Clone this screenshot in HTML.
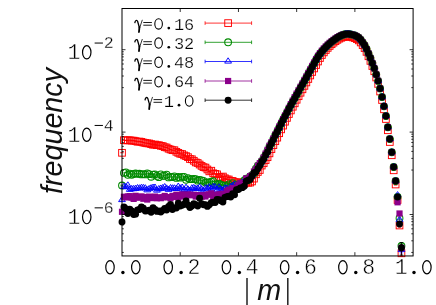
<!DOCTYPE html>
<html><head><meta charset="utf-8"><title>plot</title>
<style>
html,body{margin:0;padding:0;background:#fff;}
svg{display:block}
.tk{font-family:"Liberation Mono",monospace;font-size:21.5px;fill:#000;stroke:#fff;stroke-width:0.45px}
.sp{font-family:"Liberation Mono",monospace;font-size:16.6px;fill:#000;stroke:#fff;stroke-width:0.3px}
.lg{font-family:"Liberation Mono",monospace;font-size:17px;fill:#000;stroke:#fff;stroke-width:0.25px}
.z{fill:none;stroke:#000}
.gm{font-family:"Liberation Serif",serif;font-size:19px;fill:#111}
.ax{font-family:"Liberation Sans",sans-serif;font-style:italic;font-size:28.7px;fill:#111}
</style></head><body>
<svg width="436" height="305" viewBox="0 0 436 305">
<rect width="436" height="305" fill="#fff"/>
<g><g><path d="M120.3 152.8h3.4M122.24 140.2h3.4M124.18 140.35h3.4M126.12 140.32h3.4M128.06 140.31h3.4M130 140.6h3.4M131.94 140.66h3.4M133.88 141.15h3.4M135.83 141.72h3.4M137.77 141.53h3.4M139.71 141.85h3.4M141.65 142.55h3.4M143.59 142.95h3.4M145.53 143.32h3.4M147.47 143.46h3.4M149.41 144.12h3.4M151.35 144.73h3.4M153.29 144.53h3.4M155.23 145.19h3.4M157.17 145.18h3.4M159.11 145.82h3.4M161.05 146.14h3.4M162.99 147.2h3.4M164.94 147.51h3.4M166.88 148.73h3.4M168.82 149.48h3.4M170.76 150.2h3.4M172.7 150.24h3.4M174.64 151.79h3.4M176.58 152.83h3.4M178.52 153.77h3.4M180.46 154.04h3.4M182.4 155.37h3.4M184.34 156.13h3.4M186.28 157.18h3.4M188.22 159h3.4M190.16 159.26h3.4M192.1 160.76h3.4M194.05 162.42h3.4M195.99 163h3.4M197.93 164.52h3.4M199.87 165.91h3.4M201.81 167.13h3.4M203.75 167.58h3.4M205.69 169.45h3.4M207.63 171.36h3.4M209.57 170.71h3.4M211.51 173.3h3.4M213.45 173.87h3.4M215.39 174.35h3.4M217.33 177.09h3.4M219.27 177.12h3.4M221.21 176.54h3.4M223.16 178.24h3.4M225.1 179.37h3.4M227.04 179.49h3.4M228.98 180.86h3.4M230.92 180.94h3.4M234.56 181.71V182.63M232.86 181.71h3.4M232.86 182.63h3.4M236.5 182.9V183.85M234.8 182.9h3.4M234.8 183.85h3.4M238.44 181.6V182.52M236.74 181.6h3.4M236.74 182.52h3.4M240.38 182.72V183.67M238.68 182.72h3.4M238.68 183.67h3.4M242.32 182.51V183.45M240.62 182.51h3.4M240.62 183.45h3.4M244.26 183.21V184.17M242.56 183.21h3.4M242.56 184.17h3.4M246.2 182.06V182.99M244.5 182.06h3.4M244.5 182.99h3.4M248.14 182.3V183.24M246.44 182.3h3.4M246.44 183.24h3.4M250.08 182.14V183.07M248.38 182.14h3.4M248.38 183.07h3.4M252.02 181V181.91M250.32 181h3.4M250.32 181.91h3.4M252.27 178.62h3.4M254.21 174.29h3.4M256.15 172h3.4M258.09 170h3.4M260.03 165.55h3.4M261.97 163.23h3.4M263.91 160.1h3.4M265.85 157.21h3.4M267.79 153.37h3.4M269.73 149.16h3.4M271.67 145.15h3.4M273.61 141.2h3.4M275.55 137.65h3.4M277.49 133.23h3.4M279.43 129.36h3.4M281.38 125.6h3.4M283.32 121.69h3.4M285.26 117.89h3.4M287.2 114.02h3.4M289.14 110.44h3.4M291.08 106.74h3.4M293.02 103.31h3.4M294.96 99.74h3.4M296.9 96.21h3.4M298.84 92.74h3.4M300.78 89.3h3.4M302.72 85.88h3.4M304.66 82.45h3.4M306.6 78.98h3.4M308.54 75.46h3.4M310.49 71.93h3.4M312.43 68.44h3.4M314.37 65h3.4M316.31 61.5h3.4M318.25 58.01h3.4M320.19 55.01h3.4M322.13 52.38h3.4M324.07 50.02h3.4M326.01 47.89h3.4M327.95 45.97h3.4M329.89 44.23h3.4M331.83 42.65h3.4M333.77 41.21h3.4M335.71 39.85h3.4M337.65 38.67h3.4M339.6 37.76h3.4M341.54 37.05h3.4M343.48 36.6h3.4M345.42 36.4h3.4M347.36 36.59h3.4M349.3 36.97h3.4M351.24 37.46h3.4M353.18 38.17h3.4M355.12 39.1h3.4M357.06 40.4h3.4M359 42.47h3.4M360.94 45.11h3.4M362.88 48.08h3.4M364.82 51.88h3.4M366.76 56.26h3.4M368.71 60.89h3.4M370.65 66.02h3.4M372.59 71.25h3.4M374.53 77.49h3.4M376.47 83.9h3.4M378.41 91.5h3.4M380.35 100h3.4M382.29 109.3h3.4M384.23 119h3.4M386.17 130.25h3.4M388.11 142h3.4M390.05 155.25h3.4M391.99 170.3h3.4M395.63 184.01V184.99M393.93 184.01h3.4M393.93 184.99h3.4M397.57 199.24V200.76M395.87 199.24h3.4M395.87 200.76h3.4M399.52 223.96V227.04M397.82 223.96h3.4M397.82 227.04h3.4M401.46 250.3V256.3M399.76 250.3h3.4M399.76 256.3h3.4" stroke="#ff0000" stroke-width="1.1" fill="none"/><rect x="118.65" y="149.45" width="6.7" height="6.7" fill="none" stroke="#ff0000" stroke-width="0.95"/><rect x="120.59" y="136.85" width="6.7" height="6.7" fill="none" stroke="#ff0000" stroke-width="0.95"/><rect x="122.53" y="137" width="6.7" height="6.7" fill="none" stroke="#ff0000" stroke-width="0.95"/><rect x="124.47" y="136.97" width="6.7" height="6.7" fill="none" stroke="#ff0000" stroke-width="0.95"/><rect x="126.41" y="136.96" width="6.7" height="6.7" fill="none" stroke="#ff0000" stroke-width="0.95"/><rect x="128.35" y="137.25" width="6.7" height="6.7" fill="none" stroke="#ff0000" stroke-width="0.95"/><rect x="130.29" y="137.31" width="6.7" height="6.7" fill="none" stroke="#ff0000" stroke-width="0.95"/><rect x="132.23" y="137.8" width="6.7" height="6.7" fill="none" stroke="#ff0000" stroke-width="0.95"/><rect x="134.18" y="138.37" width="6.7" height="6.7" fill="none" stroke="#ff0000" stroke-width="0.95"/><rect x="136.12" y="138.18" width="6.7" height="6.7" fill="none" stroke="#ff0000" stroke-width="0.95"/><rect x="138.06" y="138.5" width="6.7" height="6.7" fill="none" stroke="#ff0000" stroke-width="0.95"/><rect x="140" y="139.2" width="6.7" height="6.7" fill="none" stroke="#ff0000" stroke-width="0.95"/><rect x="141.94" y="139.6" width="6.7" height="6.7" fill="none" stroke="#ff0000" stroke-width="0.95"/><rect x="143.88" y="139.97" width="6.7" height="6.7" fill="none" stroke="#ff0000" stroke-width="0.95"/><rect x="145.82" y="140.11" width="6.7" height="6.7" fill="none" stroke="#ff0000" stroke-width="0.95"/><rect x="147.76" y="140.77" width="6.7" height="6.7" fill="none" stroke="#ff0000" stroke-width="0.95"/><rect x="149.7" y="141.38" width="6.7" height="6.7" fill="none" stroke="#ff0000" stroke-width="0.95"/><rect x="151.64" y="141.18" width="6.7" height="6.7" fill="none" stroke="#ff0000" stroke-width="0.95"/><rect x="153.58" y="141.84" width="6.7" height="6.7" fill="none" stroke="#ff0000" stroke-width="0.95"/><rect x="155.52" y="141.83" width="6.7" height="6.7" fill="none" stroke="#ff0000" stroke-width="0.95"/><rect x="157.46" y="142.47" width="6.7" height="6.7" fill="none" stroke="#ff0000" stroke-width="0.95"/><rect x="159.4" y="142.79" width="6.7" height="6.7" fill="none" stroke="#ff0000" stroke-width="0.95"/><rect x="161.34" y="143.85" width="6.7" height="6.7" fill="none" stroke="#ff0000" stroke-width="0.95"/><rect x="163.29" y="144.16" width="6.7" height="6.7" fill="none" stroke="#ff0000" stroke-width="0.95"/><rect x="165.23" y="145.38" width="6.7" height="6.7" fill="none" stroke="#ff0000" stroke-width="0.95"/><rect x="167.17" y="146.13" width="6.7" height="6.7" fill="none" stroke="#ff0000" stroke-width="0.95"/><rect x="169.11" y="146.85" width="6.7" height="6.7" fill="none" stroke="#ff0000" stroke-width="0.95"/><rect x="171.05" y="146.89" width="6.7" height="6.7" fill="none" stroke="#ff0000" stroke-width="0.95"/><rect x="172.99" y="148.44" width="6.7" height="6.7" fill="none" stroke="#ff0000" stroke-width="0.95"/><rect x="174.93" y="149.48" width="6.7" height="6.7" fill="none" stroke="#ff0000" stroke-width="0.95"/><rect x="176.87" y="150.42" width="6.7" height="6.7" fill="none" stroke="#ff0000" stroke-width="0.95"/><rect x="178.81" y="150.69" width="6.7" height="6.7" fill="none" stroke="#ff0000" stroke-width="0.95"/><rect x="180.75" y="152.02" width="6.7" height="6.7" fill="none" stroke="#ff0000" stroke-width="0.95"/><rect x="182.69" y="152.78" width="6.7" height="6.7" fill="none" stroke="#ff0000" stroke-width="0.95"/><rect x="184.63" y="153.83" width="6.7" height="6.7" fill="none" stroke="#ff0000" stroke-width="0.95"/><rect x="186.57" y="155.65" width="6.7" height="6.7" fill="none" stroke="#ff0000" stroke-width="0.95"/><rect x="188.51" y="155.91" width="6.7" height="6.7" fill="none" stroke="#ff0000" stroke-width="0.95"/><rect x="190.45" y="157.41" width="6.7" height="6.7" fill="none" stroke="#ff0000" stroke-width="0.95"/><rect x="192.4" y="159.07" width="6.7" height="6.7" fill="none" stroke="#ff0000" stroke-width="0.95"/><rect x="194.34" y="159.65" width="6.7" height="6.7" fill="none" stroke="#ff0000" stroke-width="0.95"/><rect x="196.28" y="161.17" width="6.7" height="6.7" fill="none" stroke="#ff0000" stroke-width="0.95"/><rect x="198.22" y="162.56" width="6.7" height="6.7" fill="none" stroke="#ff0000" stroke-width="0.95"/><rect x="200.16" y="163.78" width="6.7" height="6.7" fill="none" stroke="#ff0000" stroke-width="0.95"/><rect x="202.1" y="164.23" width="6.7" height="6.7" fill="none" stroke="#ff0000" stroke-width="0.95"/><rect x="204.04" y="166.1" width="6.7" height="6.7" fill="none" stroke="#ff0000" stroke-width="0.95"/><rect x="205.98" y="168.01" width="6.7" height="6.7" fill="none" stroke="#ff0000" stroke-width="0.95"/><rect x="207.92" y="167.36" width="6.7" height="6.7" fill="none" stroke="#ff0000" stroke-width="0.95"/><rect x="209.86" y="169.95" width="6.7" height="6.7" fill="none" stroke="#ff0000" stroke-width="0.95"/><rect x="211.8" y="170.52" width="6.7" height="6.7" fill="none" stroke="#ff0000" stroke-width="0.95"/><rect x="213.74" y="171" width="6.7" height="6.7" fill="none" stroke="#ff0000" stroke-width="0.95"/><rect x="215.68" y="173.74" width="6.7" height="6.7" fill="none" stroke="#ff0000" stroke-width="0.95"/><rect x="217.62" y="173.77" width="6.7" height="6.7" fill="none" stroke="#ff0000" stroke-width="0.95"/><rect x="219.56" y="173.19" width="6.7" height="6.7" fill="none" stroke="#ff0000" stroke-width="0.95"/><rect x="221.51" y="174.89" width="6.7" height="6.7" fill="none" stroke="#ff0000" stroke-width="0.95"/><rect x="223.45" y="176.02" width="6.7" height="6.7" fill="none" stroke="#ff0000" stroke-width="0.95"/><rect x="225.39" y="176.14" width="6.7" height="6.7" fill="none" stroke="#ff0000" stroke-width="0.95"/><rect x="227.33" y="177.51" width="6.7" height="6.7" fill="none" stroke="#ff0000" stroke-width="0.95"/><rect x="229.27" y="177.59" width="6.7" height="6.7" fill="none" stroke="#ff0000" stroke-width="0.95"/><rect x="231.21" y="178.82" width="6.7" height="6.7" fill="none" stroke="#ff0000" stroke-width="0.95"/><rect x="233.15" y="180.03" width="6.7" height="6.7" fill="none" stroke="#ff0000" stroke-width="0.95"/><rect x="235.09" y="178.71" width="6.7" height="6.7" fill="none" stroke="#ff0000" stroke-width="0.95"/><rect x="237.03" y="179.85" width="6.7" height="6.7" fill="none" stroke="#ff0000" stroke-width="0.95"/><rect x="238.97" y="179.63" width="6.7" height="6.7" fill="none" stroke="#ff0000" stroke-width="0.95"/><rect x="240.91" y="180.34" width="6.7" height="6.7" fill="none" stroke="#ff0000" stroke-width="0.95"/><rect x="242.85" y="179.18" width="6.7" height="6.7" fill="none" stroke="#ff0000" stroke-width="0.95"/><rect x="244.79" y="179.42" width="6.7" height="6.7" fill="none" stroke="#ff0000" stroke-width="0.95"/><rect x="246.73" y="179.26" width="6.7" height="6.7" fill="none" stroke="#ff0000" stroke-width="0.95"/><rect x="248.67" y="178.11" width="6.7" height="6.7" fill="none" stroke="#ff0000" stroke-width="0.95"/><rect x="250.62" y="175.27" width="6.7" height="6.7" fill="none" stroke="#ff0000" stroke-width="0.95"/><rect x="252.56" y="170.94" width="6.7" height="6.7" fill="none" stroke="#ff0000" stroke-width="0.95"/><rect x="254.5" y="168.65" width="6.7" height="6.7" fill="none" stroke="#ff0000" stroke-width="0.95"/><rect x="256.44" y="166.65" width="6.7" height="6.7" fill="none" stroke="#ff0000" stroke-width="0.95"/><rect x="258.38" y="162.2" width="6.7" height="6.7" fill="none" stroke="#ff0000" stroke-width="0.95"/><rect x="260.32" y="159.88" width="6.7" height="6.7" fill="none" stroke="#ff0000" stroke-width="0.95"/><rect x="262.26" y="156.75" width="6.7" height="6.7" fill="none" stroke="#ff0000" stroke-width="0.95"/><rect x="264.2" y="153.86" width="6.7" height="6.7" fill="none" stroke="#ff0000" stroke-width="0.95"/><rect x="266.14" y="150.02" width="6.7" height="6.7" fill="none" stroke="#ff0000" stroke-width="0.95"/><rect x="268.08" y="145.81" width="6.7" height="6.7" fill="none" stroke="#ff0000" stroke-width="0.95"/><rect x="270.02" y="141.8" width="6.7" height="6.7" fill="none" stroke="#ff0000" stroke-width="0.95"/><rect x="271.96" y="137.85" width="6.7" height="6.7" fill="none" stroke="#ff0000" stroke-width="0.95"/><rect x="273.9" y="134.3" width="6.7" height="6.7" fill="none" stroke="#ff0000" stroke-width="0.95"/><rect x="275.84" y="129.88" width="6.7" height="6.7" fill="none" stroke="#ff0000" stroke-width="0.95"/><rect x="277.78" y="126.01" width="6.7" height="6.7" fill="none" stroke="#ff0000" stroke-width="0.95"/><rect x="279.73" y="122.25" width="6.7" height="6.7" fill="none" stroke="#ff0000" stroke-width="0.95"/><rect x="281.67" y="118.34" width="6.7" height="6.7" fill="none" stroke="#ff0000" stroke-width="0.95"/><rect x="283.61" y="114.54" width="6.7" height="6.7" fill="none" stroke="#ff0000" stroke-width="0.95"/><rect x="285.55" y="110.67" width="6.7" height="6.7" fill="none" stroke="#ff0000" stroke-width="0.95"/><rect x="287.49" y="107.09" width="6.7" height="6.7" fill="none" stroke="#ff0000" stroke-width="0.95"/><rect x="289.43" y="103.39" width="6.7" height="6.7" fill="none" stroke="#ff0000" stroke-width="0.95"/><rect x="291.37" y="99.96" width="6.7" height="6.7" fill="none" stroke="#ff0000" stroke-width="0.95"/><rect x="293.31" y="96.39" width="6.7" height="6.7" fill="none" stroke="#ff0000" stroke-width="0.95"/><rect x="295.25" y="92.86" width="6.7" height="6.7" fill="none" stroke="#ff0000" stroke-width="0.95"/><rect x="297.19" y="89.39" width="6.7" height="6.7" fill="none" stroke="#ff0000" stroke-width="0.95"/><rect x="299.13" y="85.95" width="6.7" height="6.7" fill="none" stroke="#ff0000" stroke-width="0.95"/><rect x="301.07" y="82.53" width="6.7" height="6.7" fill="none" stroke="#ff0000" stroke-width="0.95"/><rect x="303.01" y="79.1" width="6.7" height="6.7" fill="none" stroke="#ff0000" stroke-width="0.95"/><rect x="304.95" y="75.63" width="6.7" height="6.7" fill="none" stroke="#ff0000" stroke-width="0.95"/><rect x="306.89" y="72.11" width="6.7" height="6.7" fill="none" stroke="#ff0000" stroke-width="0.95"/><rect x="308.84" y="68.58" width="6.7" height="6.7" fill="none" stroke="#ff0000" stroke-width="0.95"/><rect x="310.78" y="65.09" width="6.7" height="6.7" fill="none" stroke="#ff0000" stroke-width="0.95"/><rect x="312.72" y="61.65" width="6.7" height="6.7" fill="none" stroke="#ff0000" stroke-width="0.95"/><rect x="314.66" y="58.15" width="6.7" height="6.7" fill="none" stroke="#ff0000" stroke-width="0.95"/><rect x="316.6" y="54.66" width="6.7" height="6.7" fill="none" stroke="#ff0000" stroke-width="0.95"/><rect x="318.54" y="51.66" width="6.7" height="6.7" fill="none" stroke="#ff0000" stroke-width="0.95"/><rect x="320.48" y="49.03" width="6.7" height="6.7" fill="none" stroke="#ff0000" stroke-width="0.95"/><rect x="322.42" y="46.67" width="6.7" height="6.7" fill="none" stroke="#ff0000" stroke-width="0.95"/><rect x="324.36" y="44.54" width="6.7" height="6.7" fill="none" stroke="#ff0000" stroke-width="0.95"/><rect x="326.3" y="42.62" width="6.7" height="6.7" fill="none" stroke="#ff0000" stroke-width="0.95"/><rect x="328.24" y="40.88" width="6.7" height="6.7" fill="none" stroke="#ff0000" stroke-width="0.95"/><rect x="330.18" y="39.3" width="6.7" height="6.7" fill="none" stroke="#ff0000" stroke-width="0.95"/><rect x="332.12" y="37.86" width="6.7" height="6.7" fill="none" stroke="#ff0000" stroke-width="0.95"/><rect x="334.06" y="36.5" width="6.7" height="6.7" fill="none" stroke="#ff0000" stroke-width="0.95"/><rect x="336" y="35.32" width="6.7" height="6.7" fill="none" stroke="#ff0000" stroke-width="0.95"/><rect x="337.95" y="34.41" width="6.7" height="6.7" fill="none" stroke="#ff0000" stroke-width="0.95"/><rect x="339.89" y="33.7" width="6.7" height="6.7" fill="none" stroke="#ff0000" stroke-width="0.95"/><rect x="341.83" y="33.25" width="6.7" height="6.7" fill="none" stroke="#ff0000" stroke-width="0.95"/><rect x="343.77" y="33.05" width="6.7" height="6.7" fill="none" stroke="#ff0000" stroke-width="0.95"/><rect x="345.71" y="33.24" width="6.7" height="6.7" fill="none" stroke="#ff0000" stroke-width="0.95"/><rect x="347.65" y="33.62" width="6.7" height="6.7" fill="none" stroke="#ff0000" stroke-width="0.95"/><rect x="349.59" y="34.11" width="6.7" height="6.7" fill="none" stroke="#ff0000" stroke-width="0.95"/><rect x="351.53" y="34.82" width="6.7" height="6.7" fill="none" stroke="#ff0000" stroke-width="0.95"/><rect x="353.47" y="35.75" width="6.7" height="6.7" fill="none" stroke="#ff0000" stroke-width="0.95"/><rect x="355.41" y="37.05" width="6.7" height="6.7" fill="none" stroke="#ff0000" stroke-width="0.95"/><rect x="357.35" y="39.12" width="6.7" height="6.7" fill="none" stroke="#ff0000" stroke-width="0.95"/><rect x="359.29" y="41.76" width="6.7" height="6.7" fill="none" stroke="#ff0000" stroke-width="0.95"/><rect x="361.23" y="44.73" width="6.7" height="6.7" fill="none" stroke="#ff0000" stroke-width="0.95"/><rect x="363.17" y="48.53" width="6.7" height="6.7" fill="none" stroke="#ff0000" stroke-width="0.95"/><rect x="365.11" y="52.91" width="6.7" height="6.7" fill="none" stroke="#ff0000" stroke-width="0.95"/><rect x="367.06" y="57.54" width="6.7" height="6.7" fill="none" stroke="#ff0000" stroke-width="0.95"/><rect x="369" y="62.67" width="6.7" height="6.7" fill="none" stroke="#ff0000" stroke-width="0.95"/><rect x="370.94" y="67.9" width="6.7" height="6.7" fill="none" stroke="#ff0000" stroke-width="0.95"/><rect x="372.88" y="74.14" width="6.7" height="6.7" fill="none" stroke="#ff0000" stroke-width="0.95"/><rect x="374.82" y="80.55" width="6.7" height="6.7" fill="none" stroke="#ff0000" stroke-width="0.95"/><rect x="376.76" y="88.15" width="6.7" height="6.7" fill="none" stroke="#ff0000" stroke-width="0.95"/><rect x="378.7" y="96.65" width="6.7" height="6.7" fill="none" stroke="#ff0000" stroke-width="0.95"/><rect x="380.64" y="105.95" width="6.7" height="6.7" fill="none" stroke="#ff0000" stroke-width="0.95"/><rect x="382.58" y="115.65" width="6.7" height="6.7" fill="none" stroke="#ff0000" stroke-width="0.95"/><rect x="384.52" y="126.9" width="6.7" height="6.7" fill="none" stroke="#ff0000" stroke-width="0.95"/><rect x="386.46" y="138.65" width="6.7" height="6.7" fill="none" stroke="#ff0000" stroke-width="0.95"/><rect x="388.4" y="151.9" width="6.7" height="6.7" fill="none" stroke="#ff0000" stroke-width="0.95"/><rect x="390.34" y="166.95" width="6.7" height="6.7" fill="none" stroke="#ff0000" stroke-width="0.95"/><rect x="392.28" y="181.15" width="6.7" height="6.7" fill="none" stroke="#ff0000" stroke-width="0.95"/><rect x="394.22" y="196.65" width="6.7" height="6.7" fill="none" stroke="#ff0000" stroke-width="0.95"/><rect x="396.17" y="222.15" width="6.7" height="6.7" fill="none" stroke="#ff0000" stroke-width="0.95"/><rect x="398.11" y="249.95" width="6.7" height="6.7" fill="none" stroke="#ff0000" stroke-width="0.95"/></g><g><path d="M122 185V186M120.3 185h3.4M120.3 186h3.4M122.24 172.91h3.4M124.18 172.38h3.4M126.12 174.85h3.4M128.06 173.61h3.4M130 174.77h3.4M131.94 173.97h3.4M133.88 173.4h3.4M135.83 173.87h3.4M137.77 173.76h3.4M139.71 174.43h3.4M141.65 174.18h3.4M143.59 174.38h3.4M145.53 173.47h3.4M147.47 174.15h3.4M149.41 176.7h3.4M151.35 174.57h3.4M153.29 174.35h3.4M155.23 175.89h3.4M157.17 177.14h3.4M159.11 174.45h3.4M161.05 175.89h3.4M162.99 175.64h3.4M164.94 174.68h3.4M166.88 177.41h3.4M168.82 176.83h3.4M170.76 177.11h3.4M172.7 176.44h3.4M174.64 177.89h3.4M176.58 177.03h3.4M178.52 177.64h3.4M180.46 176.81h3.4M182.4 176.9h3.4M184.34 179.85h3.4M186.28 178.08h3.4M188.22 179.18h3.4M190.16 179.07h3.4M192.1 178.89h3.4M194.05 179.09h3.4M195.99 180.66h3.4M197.93 179.92h3.4M199.87 180.4h3.4M201.81 180.93h3.4M205.45 182.14V183.07M203.75 182.14h3.4M203.75 183.07h3.4M207.39 181.91V182.83M205.69 181.91h3.4M205.69 182.83h3.4M209.33 181.93V182.85M207.63 181.93h3.4M207.63 182.85h3.4M211.27 181.21V182.11M209.57 181.21h3.4M209.57 182.11h3.4M211.51 181.07h3.4M215.15 183.83V184.81M213.45 183.83h3.4M213.45 184.81h3.4M217.09 184.23V185.22M215.39 184.23h3.4M215.39 185.22h3.4M219.03 183.2V184.16M217.33 183.2h3.4M217.33 184.16h3.4M220.97 184.33V185.32M219.27 184.33h3.4M219.27 185.32h3.4M222.91 184.91V185.92M221.21 184.91h3.4M221.21 185.92h3.4M224.86 185.25V186.26M223.16 185.25h3.4M223.16 186.26h3.4M226.8 185.57V186.59M225.1 185.57h3.4M225.1 186.59h3.4M228.74 183.92V184.9M227.04 183.92h3.4M227.04 184.9h3.4M230.68 186.38V187.43M228.98 186.38h3.4M228.98 187.43h3.4M232.62 182.66V183.6M230.92 182.66h3.4M230.92 183.6h3.4M234.56 184.99V186M232.86 184.99h3.4M232.86 186h3.4M236.5 184.12V185.11M234.8 184.12h3.4M234.8 185.11h3.4M238.44 184.16V185.15M236.74 184.16h3.4M236.74 185.15h3.4M240.38 184.88V185.89M238.68 184.88h3.4M238.68 185.89h3.4M242.32 183.76V184.73M240.62 183.76h3.4M240.62 184.73h3.4M242.56 180.34h3.4M244.5 178.78h3.4M246.44 180.2h3.4M248.38 176.38h3.4M250.32 175.29h3.4M252.27 173.55h3.4M254.21 168.68h3.4M256.15 165.6h3.4M258.09 164.5h3.4M260.03 161.23h3.4M261.97 157.8h3.4M263.91 154.58h3.4M265.85 150.55h3.4M267.79 146.49h3.4M269.73 143.2h3.4M271.67 139.06h3.4M273.61 135h3.4M275.55 131.73h3.4M277.49 127.68h3.4M279.43 123.94h3.4M281.38 119.82h3.4M283.32 116.13h3.4M285.26 112.34h3.4M287.2 108.68h3.4M289.14 105.22h3.4M291.08 101.54h3.4M293.02 98.19h3.4M294.96 94.71h3.4M296.9 91.41h3.4M298.84 87.79h3.4M300.78 84.36h3.4M302.72 80.92h3.4M304.66 77.42h3.4M306.6 73.89h3.4M308.54 70.38h3.4M310.49 66.93h3.4M312.43 63.45h3.4M314.37 59.98h3.4M316.31 56.78h3.4M318.25 54.01h3.4M320.19 51.51h3.4M322.13 49.22h3.4M324.07 47.13h3.4M326.01 45.22h3.4M327.95 43.45h3.4M329.89 41.82h3.4M331.83 40.32h3.4M333.77 38.89h3.4M335.71 37.56h3.4M337.65 36.42h3.4M339.6 35.5h3.4M341.54 34.75h3.4M343.48 34.22h3.4M345.42 33.9h3.4M347.36 34.06h3.4M349.3 34.4h3.4M351.24 34.86h3.4M353.18 35.54h3.4M355.12 36.43h3.4M357.06 37.7h3.4M359 39.74h3.4M360.94 42.35h3.4M362.88 45.29h3.4M364.82 49.05h3.4M366.76 53.4h3.4M368.71 58h3.4M370.65 63.1h3.4M372.59 68.3h3.4M374.53 74.5h3.4M376.47 80.9h3.4M378.41 88.5h3.4M380.35 97h3.4M382.29 106.3h3.4M384.23 116h3.4M386.17 127.25h3.4M388.11 139h3.4M390.05 152.25h3.4M391.99 167h3.4M393.93 181h3.4M397.57 196.3V197.7M395.87 196.3h3.4M395.87 197.7h3.4M399.52 216.94V219.46M397.82 216.94h3.4M397.82 219.46h3.4M401.46 243.27V248.73M399.76 243.27h3.4M399.76 248.73h3.4" stroke="#008a00" stroke-width="0.7" fill="none"/><circle cx="122" cy="185.5" r="3.4" fill="none" stroke="#008a00" stroke-width="1.05"/><circle cx="123.94" cy="172.91" r="3.4" fill="none" stroke="#008a00" stroke-width="1.05"/><circle cx="125.88" cy="172.38" r="3.4" fill="none" stroke="#008a00" stroke-width="1.05"/><circle cx="127.82" cy="174.85" r="3.4" fill="none" stroke="#008a00" stroke-width="1.05"/><circle cx="129.76" cy="173.61" r="3.4" fill="none" stroke="#008a00" stroke-width="1.05"/><circle cx="131.7" cy="174.77" r="3.4" fill="none" stroke="#008a00" stroke-width="1.05"/><circle cx="133.64" cy="173.97" r="3.4" fill="none" stroke="#008a00" stroke-width="1.05"/><circle cx="135.58" cy="173.4" r="3.4" fill="none" stroke="#008a00" stroke-width="1.05"/><circle cx="137.53" cy="173.87" r="3.4" fill="none" stroke="#008a00" stroke-width="1.05"/><circle cx="139.47" cy="173.76" r="3.4" fill="none" stroke="#008a00" stroke-width="1.05"/><circle cx="141.41" cy="174.43" r="3.4" fill="none" stroke="#008a00" stroke-width="1.05"/><circle cx="143.35" cy="174.18" r="3.4" fill="none" stroke="#008a00" stroke-width="1.05"/><circle cx="145.29" cy="174.38" r="3.4" fill="none" stroke="#008a00" stroke-width="1.05"/><circle cx="147.23" cy="173.47" r="3.4" fill="none" stroke="#008a00" stroke-width="1.05"/><circle cx="149.17" cy="174.15" r="3.4" fill="none" stroke="#008a00" stroke-width="1.05"/><circle cx="151.11" cy="176.7" r="3.4" fill="none" stroke="#008a00" stroke-width="1.05"/><circle cx="153.05" cy="174.57" r="3.4" fill="none" stroke="#008a00" stroke-width="1.05"/><circle cx="154.99" cy="174.35" r="3.4" fill="none" stroke="#008a00" stroke-width="1.05"/><circle cx="156.93" cy="175.89" r="3.4" fill="none" stroke="#008a00" stroke-width="1.05"/><circle cx="158.87" cy="177.14" r="3.4" fill="none" stroke="#008a00" stroke-width="1.05"/><circle cx="160.81" cy="174.45" r="3.4" fill="none" stroke="#008a00" stroke-width="1.05"/><circle cx="162.75" cy="175.89" r="3.4" fill="none" stroke="#008a00" stroke-width="1.05"/><circle cx="164.69" cy="175.64" r="3.4" fill="none" stroke="#008a00" stroke-width="1.05"/><circle cx="166.64" cy="174.68" r="3.4" fill="none" stroke="#008a00" stroke-width="1.05"/><circle cx="168.58" cy="177.41" r="3.4" fill="none" stroke="#008a00" stroke-width="1.05"/><circle cx="170.52" cy="176.83" r="3.4" fill="none" stroke="#008a00" stroke-width="1.05"/><circle cx="172.46" cy="177.11" r="3.4" fill="none" stroke="#008a00" stroke-width="1.05"/><circle cx="174.4" cy="176.44" r="3.4" fill="none" stroke="#008a00" stroke-width="1.05"/><circle cx="176.34" cy="177.89" r="3.4" fill="none" stroke="#008a00" stroke-width="1.05"/><circle cx="178.28" cy="177.03" r="3.4" fill="none" stroke="#008a00" stroke-width="1.05"/><circle cx="180.22" cy="177.64" r="3.4" fill="none" stroke="#008a00" stroke-width="1.05"/><circle cx="182.16" cy="176.81" r="3.4" fill="none" stroke="#008a00" stroke-width="1.05"/><circle cx="184.1" cy="176.9" r="3.4" fill="none" stroke="#008a00" stroke-width="1.05"/><circle cx="186.04" cy="179.85" r="3.4" fill="none" stroke="#008a00" stroke-width="1.05"/><circle cx="187.98" cy="178.08" r="3.4" fill="none" stroke="#008a00" stroke-width="1.05"/><circle cx="189.92" cy="179.18" r="3.4" fill="none" stroke="#008a00" stroke-width="1.05"/><circle cx="191.86" cy="179.07" r="3.4" fill="none" stroke="#008a00" stroke-width="1.05"/><circle cx="193.8" cy="178.89" r="3.4" fill="none" stroke="#008a00" stroke-width="1.05"/><circle cx="195.75" cy="179.09" r="3.4" fill="none" stroke="#008a00" stroke-width="1.05"/><circle cx="197.69" cy="180.66" r="3.4" fill="none" stroke="#008a00" stroke-width="1.05"/><circle cx="199.63" cy="179.92" r="3.4" fill="none" stroke="#008a00" stroke-width="1.05"/><circle cx="201.57" cy="180.4" r="3.4" fill="none" stroke="#008a00" stroke-width="1.05"/><circle cx="203.51" cy="180.93" r="3.4" fill="none" stroke="#008a00" stroke-width="1.05"/><circle cx="205.45" cy="182.6" r="3.4" fill="none" stroke="#008a00" stroke-width="1.05"/><circle cx="207.39" cy="182.37" r="3.4" fill="none" stroke="#008a00" stroke-width="1.05"/><circle cx="209.33" cy="182.39" r="3.4" fill="none" stroke="#008a00" stroke-width="1.05"/><circle cx="211.27" cy="181.66" r="3.4" fill="none" stroke="#008a00" stroke-width="1.05"/><circle cx="213.21" cy="181.07" r="3.4" fill="none" stroke="#008a00" stroke-width="1.05"/><circle cx="215.15" cy="184.32" r="3.4" fill="none" stroke="#008a00" stroke-width="1.05"/><circle cx="217.09" cy="184.73" r="3.4" fill="none" stroke="#008a00" stroke-width="1.05"/><circle cx="219.03" cy="183.68" r="3.4" fill="none" stroke="#008a00" stroke-width="1.05"/><circle cx="220.97" cy="184.82" r="3.4" fill="none" stroke="#008a00" stroke-width="1.05"/><circle cx="222.91" cy="185.42" r="3.4" fill="none" stroke="#008a00" stroke-width="1.05"/><circle cx="224.86" cy="185.76" r="3.4" fill="none" stroke="#008a00" stroke-width="1.05"/><circle cx="226.8" cy="186.08" r="3.4" fill="none" stroke="#008a00" stroke-width="1.05"/><circle cx="228.74" cy="184.41" r="3.4" fill="none" stroke="#008a00" stroke-width="1.05"/><circle cx="230.68" cy="186.9" r="3.4" fill="none" stroke="#008a00" stroke-width="1.05"/><circle cx="232.62" cy="183.13" r="3.4" fill="none" stroke="#008a00" stroke-width="1.05"/><circle cx="234.56" cy="185.49" r="3.4" fill="none" stroke="#008a00" stroke-width="1.05"/><circle cx="236.5" cy="184.61" r="3.4" fill="none" stroke="#008a00" stroke-width="1.05"/><circle cx="238.44" cy="184.65" r="3.4" fill="none" stroke="#008a00" stroke-width="1.05"/><circle cx="240.38" cy="185.38" r="3.4" fill="none" stroke="#008a00" stroke-width="1.05"/><circle cx="242.32" cy="184.25" r="3.4" fill="none" stroke="#008a00" stroke-width="1.05"/><circle cx="244.26" cy="180.34" r="3.4" fill="none" stroke="#008a00" stroke-width="1.05"/><circle cx="246.2" cy="178.78" r="3.4" fill="none" stroke="#008a00" stroke-width="1.05"/><circle cx="248.14" cy="180.2" r="3.4" fill="none" stroke="#008a00" stroke-width="1.05"/><circle cx="250.08" cy="176.38" r="3.4" fill="none" stroke="#008a00" stroke-width="1.05"/><circle cx="252.02" cy="175.29" r="3.4" fill="none" stroke="#008a00" stroke-width="1.05"/><circle cx="253.97" cy="173.55" r="3.4" fill="none" stroke="#008a00" stroke-width="1.05"/><circle cx="255.91" cy="168.68" r="3.4" fill="none" stroke="#008a00" stroke-width="1.05"/><circle cx="257.85" cy="165.6" r="3.4" fill="none" stroke="#008a00" stroke-width="1.05"/><circle cx="259.79" cy="164.5" r="3.4" fill="none" stroke="#008a00" stroke-width="1.05"/><circle cx="261.73" cy="161.23" r="3.4" fill="none" stroke="#008a00" stroke-width="1.05"/><circle cx="263.67" cy="157.8" r="3.4" fill="none" stroke="#008a00" stroke-width="1.05"/><circle cx="265.61" cy="154.58" r="3.4" fill="none" stroke="#008a00" stroke-width="1.05"/><circle cx="267.55" cy="150.55" r="3.4" fill="none" stroke="#008a00" stroke-width="1.05"/><circle cx="269.49" cy="146.49" r="3.4" fill="none" stroke="#008a00" stroke-width="1.05"/><circle cx="271.43" cy="143.2" r="3.4" fill="none" stroke="#008a00" stroke-width="1.05"/><circle cx="273.37" cy="139.06" r="3.4" fill="none" stroke="#008a00" stroke-width="1.05"/><circle cx="275.31" cy="135" r="3.4" fill="none" stroke="#008a00" stroke-width="1.05"/><circle cx="277.25" cy="131.73" r="3.4" fill="none" stroke="#008a00" stroke-width="1.05"/><circle cx="279.19" cy="127.68" r="3.4" fill="none" stroke="#008a00" stroke-width="1.05"/><circle cx="281.13" cy="123.94" r="3.4" fill="none" stroke="#008a00" stroke-width="1.05"/><circle cx="283.08" cy="119.82" r="3.4" fill="none" stroke="#008a00" stroke-width="1.05"/><circle cx="285.02" cy="116.13" r="3.4" fill="none" stroke="#008a00" stroke-width="1.05"/><circle cx="286.96" cy="112.34" r="3.4" fill="none" stroke="#008a00" stroke-width="1.05"/><circle cx="288.9" cy="108.68" r="3.4" fill="none" stroke="#008a00" stroke-width="1.05"/><circle cx="290.84" cy="105.22" r="3.4" fill="none" stroke="#008a00" stroke-width="1.05"/><circle cx="292.78" cy="101.54" r="3.4" fill="none" stroke="#008a00" stroke-width="1.05"/><circle cx="294.72" cy="98.19" r="3.4" fill="none" stroke="#008a00" stroke-width="1.05"/><circle cx="296.66" cy="94.71" r="3.4" fill="none" stroke="#008a00" stroke-width="1.05"/><circle cx="298.6" cy="91.41" r="3.4" fill="none" stroke="#008a00" stroke-width="1.05"/><circle cx="300.54" cy="87.79" r="3.4" fill="none" stroke="#008a00" stroke-width="1.05"/><circle cx="302.48" cy="84.36" r="3.4" fill="none" stroke="#008a00" stroke-width="1.05"/><circle cx="304.42" cy="80.92" r="3.4" fill="none" stroke="#008a00" stroke-width="1.05"/><circle cx="306.36" cy="77.42" r="3.4" fill="none" stroke="#008a00" stroke-width="1.05"/><circle cx="308.3" cy="73.89" r="3.4" fill="none" stroke="#008a00" stroke-width="1.05"/><circle cx="310.24" cy="70.38" r="3.4" fill="none" stroke="#008a00" stroke-width="1.05"/><circle cx="312.19" cy="66.93" r="3.4" fill="none" stroke="#008a00" stroke-width="1.05"/><circle cx="314.13" cy="63.45" r="3.4" fill="none" stroke="#008a00" stroke-width="1.05"/><circle cx="316.07" cy="59.98" r="3.4" fill="none" stroke="#008a00" stroke-width="1.05"/><circle cx="318.01" cy="56.78" r="3.4" fill="none" stroke="#008a00" stroke-width="1.05"/><circle cx="319.95" cy="54.01" r="3.4" fill="none" stroke="#008a00" stroke-width="1.05"/><circle cx="321.89" cy="51.51" r="3.4" fill="none" stroke="#008a00" stroke-width="1.05"/><circle cx="323.83" cy="49.22" r="3.4" fill="none" stroke="#008a00" stroke-width="1.05"/><circle cx="325.77" cy="47.13" r="3.4" fill="none" stroke="#008a00" stroke-width="1.05"/><circle cx="327.71" cy="45.22" r="3.4" fill="none" stroke="#008a00" stroke-width="1.05"/><circle cx="329.65" cy="43.45" r="3.4" fill="none" stroke="#008a00" stroke-width="1.05"/><circle cx="331.59" cy="41.82" r="3.4" fill="none" stroke="#008a00" stroke-width="1.05"/><circle cx="333.53" cy="40.32" r="3.4" fill="none" stroke="#008a00" stroke-width="1.05"/><circle cx="335.47" cy="38.89" r="3.4" fill="none" stroke="#008a00" stroke-width="1.05"/><circle cx="337.41" cy="37.56" r="3.4" fill="none" stroke="#008a00" stroke-width="1.05"/><circle cx="339.35" cy="36.42" r="3.4" fill="none" stroke="#008a00" stroke-width="1.05"/><circle cx="341.3" cy="35.5" r="3.4" fill="none" stroke="#008a00" stroke-width="1.05"/><circle cx="343.24" cy="34.75" r="3.4" fill="none" stroke="#008a00" stroke-width="1.05"/><circle cx="345.18" cy="34.22" r="3.4" fill="none" stroke="#008a00" stroke-width="1.05"/><circle cx="347.12" cy="33.9" r="3.4" fill="none" stroke="#008a00" stroke-width="1.05"/><circle cx="349.06" cy="34.06" r="3.4" fill="none" stroke="#008a00" stroke-width="1.05"/><circle cx="351" cy="34.4" r="3.4" fill="none" stroke="#008a00" stroke-width="1.05"/><circle cx="352.94" cy="34.86" r="3.4" fill="none" stroke="#008a00" stroke-width="1.05"/><circle cx="354.88" cy="35.54" r="3.4" fill="none" stroke="#008a00" stroke-width="1.05"/><circle cx="356.82" cy="36.43" r="3.4" fill="none" stroke="#008a00" stroke-width="1.05"/><circle cx="358.76" cy="37.7" r="3.4" fill="none" stroke="#008a00" stroke-width="1.05"/><circle cx="360.7" cy="39.74" r="3.4" fill="none" stroke="#008a00" stroke-width="1.05"/><circle cx="362.64" cy="42.35" r="3.4" fill="none" stroke="#008a00" stroke-width="1.05"/><circle cx="364.58" cy="45.29" r="3.4" fill="none" stroke="#008a00" stroke-width="1.05"/><circle cx="366.52" cy="49.05" r="3.4" fill="none" stroke="#008a00" stroke-width="1.05"/><circle cx="368.46" cy="53.4" r="3.4" fill="none" stroke="#008a00" stroke-width="1.05"/><circle cx="370.41" cy="58" r="3.4" fill="none" stroke="#008a00" stroke-width="1.05"/><circle cx="372.35" cy="63.1" r="3.4" fill="none" stroke="#008a00" stroke-width="1.05"/><circle cx="374.29" cy="68.3" r="3.4" fill="none" stroke="#008a00" stroke-width="1.05"/><circle cx="376.23" cy="74.5" r="3.4" fill="none" stroke="#008a00" stroke-width="1.05"/><circle cx="378.17" cy="80.9" r="3.4" fill="none" stroke="#008a00" stroke-width="1.05"/><circle cx="380.11" cy="88.5" r="3.4" fill="none" stroke="#008a00" stroke-width="1.05"/><circle cx="382.05" cy="97" r="3.4" fill="none" stroke="#008a00" stroke-width="1.05"/><circle cx="383.99" cy="106.3" r="3.4" fill="none" stroke="#008a00" stroke-width="1.05"/><circle cx="385.93" cy="116" r="3.4" fill="none" stroke="#008a00" stroke-width="1.05"/><circle cx="387.87" cy="127.25" r="3.4" fill="none" stroke="#008a00" stroke-width="1.05"/><circle cx="389.81" cy="139" r="3.4" fill="none" stroke="#008a00" stroke-width="1.05"/><circle cx="391.75" cy="152.25" r="3.4" fill="none" stroke="#008a00" stroke-width="1.05"/><circle cx="393.69" cy="167" r="3.4" fill="none" stroke="#008a00" stroke-width="1.05"/><circle cx="395.63" cy="181" r="3.4" fill="none" stroke="#008a00" stroke-width="1.05"/><circle cx="397.57" cy="197" r="3.4" fill="none" stroke="#008a00" stroke-width="1.05"/><circle cx="399.52" cy="218.2" r="3.4" fill="none" stroke="#008a00" stroke-width="1.05"/><circle cx="401.46" cy="246" r="3.4" fill="none" stroke="#008a00" stroke-width="1.05"/></g><g><path d="M122 199.24V200.76M120.3 199.24h3.4M120.3 200.76h3.4M123.94 186.39V187.44M122.24 186.39h3.4M122.24 187.44h3.4M125.88 186.66V187.72M124.18 186.66h3.4M124.18 187.72h3.4M127.82 185V186.01M126.12 185h3.4M126.12 186.01h3.4M129.76 189.19V190.33M128.06 189.19h3.4M128.06 190.33h3.4M131.7 188.53V189.65M130 188.53h3.4M130 189.65h3.4M133.64 188.54V189.66M131.94 188.54h3.4M131.94 189.66h3.4M135.58 188.31V189.42M133.88 188.31h3.4M133.88 189.42h3.4M137.53 187.69V188.77M135.83 187.69h3.4M135.83 188.77h3.4M139.47 187.87V188.97M137.77 187.87h3.4M137.77 188.97h3.4M141.41 187.35V188.43M139.71 187.35h3.4M139.71 188.43h3.4M143.35 187.47V188.55M141.65 187.47h3.4M141.65 188.55h3.4M145.29 187.83V188.92M143.59 187.83h3.4M143.59 188.92h3.4M147.23 189.67V190.83M145.53 189.67h3.4M145.53 190.83h3.4M149.17 188.53V189.64M147.47 188.53h3.4M147.47 189.64h3.4M151.11 187.8V188.89M149.41 187.8h3.4M149.41 188.89h3.4M153.05 187.18V188.25M151.35 187.18h3.4M151.35 188.25h3.4M154.99 187.14V188.21M153.29 187.14h3.4M153.29 188.21h3.4M156.93 189.95V191.11M155.23 189.95h3.4M155.23 191.11h3.4M158.87 188.62V189.73M157.17 188.62h3.4M157.17 189.73h3.4M160.81 188.1V189.2M159.11 188.1h3.4M159.11 189.2h3.4M162.75 187.61V188.69M161.05 187.61h3.4M161.05 188.69h3.4M164.69 186.68V187.74M162.99 186.68h3.4M162.99 187.74h3.4M166.64 188.01V189.1M164.94 188.01h3.4M164.94 189.1h3.4M168.58 189.2V190.34M166.88 189.2h3.4M166.88 190.34h3.4M170.52 187.64V188.73M168.82 187.64h3.4M168.82 188.73h3.4M172.46 187.87V188.96M170.76 187.87h3.4M170.76 188.96h3.4M174.4 187.9V188.99M172.7 187.9h3.4M172.7 188.99h3.4M176.34 188.32V189.43M174.64 188.32h3.4M174.64 189.43h3.4M178.28 186.21V187.25M176.58 186.21h3.4M176.58 187.25h3.4M180.22 187.92V189.02M178.52 187.92h3.4M178.52 189.02h3.4M182.16 187.16V188.23M180.46 187.16h3.4M180.46 188.23h3.4M184.1 189.34V190.48M182.4 189.34h3.4M182.4 190.48h3.4M186.04 187.28V188.35M184.34 187.28h3.4M184.34 188.35h3.4M187.98 188.97V190.1M186.28 188.97h3.4M186.28 190.1h3.4M189.92 190.16V191.32M188.22 190.16h3.4M188.22 191.32h3.4M191.86 187.85V188.95M190.16 187.85h3.4M190.16 188.95h3.4M193.8 187.49V188.57M192.1 187.49h3.4M192.1 188.57h3.4M195.75 188.47V189.59M194.05 188.47h3.4M194.05 189.59h3.4M197.69 188.22V189.33M195.99 188.22h3.4M195.99 189.33h3.4M199.63 186.97V188.04M197.93 186.97h3.4M197.93 188.04h3.4M201.57 188.78V189.9M199.87 188.78h3.4M199.87 189.9h3.4M203.51 190.71V191.89M201.81 190.71h3.4M201.81 191.89h3.4M205.45 187.85V188.94M203.75 187.85h3.4M203.75 188.94h3.4M207.39 187.91V189M205.69 187.91h3.4M205.69 189h3.4M209.33 186.84V187.9M207.63 186.84h3.4M207.63 187.9h3.4M211.27 188.53V189.65M209.57 188.53h3.4M209.57 189.65h3.4M213.21 186.57V187.62M211.51 186.57h3.4M211.51 187.62h3.4M215.15 186.73V187.79M213.45 186.73h3.4M213.45 187.79h3.4M217.09 189.69V190.84M215.39 189.69h3.4M215.39 190.84h3.4M219.03 186.94V188M217.33 186.94h3.4M217.33 188h3.4M220.97 189.36V190.5M219.27 189.36h3.4M219.27 190.5h3.4M222.91 189.76V190.91M221.21 189.76h3.4M221.21 190.91h3.4M224.86 187.95V189.05M223.16 187.95h3.4M223.16 189.05h3.4M226.8 188.02V189.12M225.1 188.02h3.4M225.1 189.12h3.4M228.74 189.4V190.55M227.04 189.4h3.4M227.04 190.55h3.4M230.68 186.48V187.53M228.98 186.48h3.4M228.98 187.53h3.4M232.62 185.63V186.65M230.92 185.63h3.4M230.92 186.65h3.4M234.56 184.29V185.28M232.86 184.29h3.4M232.86 185.28h3.4M236.5 185.4V186.42M234.8 185.4h3.4M234.8 186.42h3.4M238.44 186.43V187.48M236.74 186.43h3.4M236.74 187.48h3.4M240.38 185.09V186.11M238.68 185.09h3.4M238.68 186.11h3.4M242.32 182.11V183.04M240.62 182.11h3.4M240.62 183.04h3.4M244.26 181.16V182.06M242.56 181.16h3.4M242.56 182.06h3.4M244.5 180.72h3.4M246.44 179.84h3.4M248.38 177.27h3.4M250.32 175.28h3.4M252.27 172.84h3.4M254.21 169.69h3.4M256.15 167.09h3.4M258.09 164.31h3.4M260.03 161.03h3.4M261.97 158.12h3.4M263.91 155.39h3.4M265.85 151.18h3.4M267.79 147.14h3.4M269.73 142.64h3.4M271.67 139.53h3.4M273.61 134.97h3.4M275.55 131.22h3.4M277.49 127.89h3.4M279.43 123.99h3.4M281.38 120h3.4M283.32 115.97h3.4M285.26 112.45h3.4M287.2 108.72h3.4M289.14 105.27h3.4M291.08 101.89h3.4M293.02 98.17h3.4M294.96 94.6h3.4M296.9 91.12h3.4M298.84 87.79h3.4M300.78 84.36h3.4M302.72 80.92h3.4M304.66 77.42h3.4M306.6 73.89h3.4M308.54 70.38h3.4M310.49 66.93h3.4M312.43 63.45h3.4M314.37 59.98h3.4M316.31 56.78h3.4M318.25 54.01h3.4M320.19 51.51h3.4M322.13 49.22h3.4M324.07 47.13h3.4M326.01 45.22h3.4M327.95 43.45h3.4M329.89 41.82h3.4M331.83 40.32h3.4M333.77 38.89h3.4M335.71 37.56h3.4M337.65 36.42h3.4M339.6 35.5h3.4M341.54 34.75h3.4M343.48 34.22h3.4M345.42 33.9h3.4M347.36 34.06h3.4M349.3 34.4h3.4M351.24 34.86h3.4M353.18 35.54h3.4M355.12 36.43h3.4M357.06 37.7h3.4M359 39.74h3.4M360.94 42.35h3.4M362.88 45.29h3.4M364.82 49.05h3.4M366.76 53.4h3.4M368.71 58h3.4M370.65 63.1h3.4M372.59 68.3h3.4M374.53 74.5h3.4M376.47 80.9h3.4M378.41 88.5h3.4M380.35 97h3.4M382.29 106.3h3.4M384.23 116h3.4M386.17 127.25h3.4M388.11 139h3.4M390.05 152.25h3.4M391.99 167h3.4M393.93 181h3.4M397.57 194.64V195.96M395.87 194.64h3.4M395.87 195.96h3.4M399.52 218.68V221.32M397.82 218.68h3.4M397.82 221.32h3.4M401.46 247V253M399.76 247h3.4M399.76 253h3.4" stroke="#0000ff" stroke-width="0.55" fill="none"/><path d="M122 196.3L125.4 201.6H118.6Z" fill="none" stroke="#0000ff" stroke-width="0.95"/><path d="M123.94 183.21L127.34 188.51H120.54Z" fill="none" stroke="#0000ff" stroke-width="0.95"/><path d="M125.88 183.49L129.28 188.79H122.48Z" fill="none" stroke="#0000ff" stroke-width="0.95"/><path d="M127.82 181.8L131.22 187.1H124.42Z" fill="none" stroke="#0000ff" stroke-width="0.95"/><path d="M129.76 186.06L133.16 191.36H126.36Z" fill="none" stroke="#0000ff" stroke-width="0.95"/><path d="M131.7 185.39L135.1 190.69H128.3Z" fill="none" stroke="#0000ff" stroke-width="0.95"/><path d="M133.64 185.4L137.04 190.7H130.24Z" fill="none" stroke="#0000ff" stroke-width="0.95"/><path d="M135.58 185.16L138.98 190.46H132.18Z" fill="none" stroke="#0000ff" stroke-width="0.95"/><path d="M137.53 184.53L140.93 189.83H134.13Z" fill="none" stroke="#0000ff" stroke-width="0.95"/><path d="M139.47 184.72L142.87 190.02H136.07Z" fill="none" stroke="#0000ff" stroke-width="0.95"/><path d="M141.41 184.19L144.81 189.49H138.01Z" fill="none" stroke="#0000ff" stroke-width="0.95"/><path d="M143.35 184.31L146.75 189.61H139.95Z" fill="none" stroke="#0000ff" stroke-width="0.95"/><path d="M145.29 184.68L148.69 189.98H141.89Z" fill="none" stroke="#0000ff" stroke-width="0.95"/><path d="M147.23 186.55L150.63 191.85H143.83Z" fill="none" stroke="#0000ff" stroke-width="0.95"/><path d="M149.17 185.39L152.57 190.69H145.77Z" fill="none" stroke="#0000ff" stroke-width="0.95"/><path d="M151.11 184.64L154.51 189.94H147.71Z" fill="none" stroke="#0000ff" stroke-width="0.95"/><path d="M153.05 184.02L156.45 189.32H149.65Z" fill="none" stroke="#0000ff" stroke-width="0.95"/><path d="M154.99 183.98L158.39 189.28H151.59Z" fill="none" stroke="#0000ff" stroke-width="0.95"/><path d="M156.93 186.83L160.33 192.13H153.53Z" fill="none" stroke="#0000ff" stroke-width="0.95"/><path d="M158.87 185.47L162.27 190.77H155.47Z" fill="none" stroke="#0000ff" stroke-width="0.95"/><path d="M160.81 184.95L164.21 190.25H157.41Z" fill="none" stroke="#0000ff" stroke-width="0.95"/><path d="M162.75 184.45L166.15 189.75H159.35Z" fill="none" stroke="#0000ff" stroke-width="0.95"/><path d="M164.69 183.51L168.09 188.81H161.29Z" fill="none" stroke="#0000ff" stroke-width="0.95"/><path d="M166.64 184.85L170.04 190.15H163.24Z" fill="none" stroke="#0000ff" stroke-width="0.95"/><path d="M168.58 186.07L171.98 191.37H165.18Z" fill="none" stroke="#0000ff" stroke-width="0.95"/><path d="M170.52 184.49L173.92 189.79H167.12Z" fill="none" stroke="#0000ff" stroke-width="0.95"/><path d="M172.46 184.72L175.86 190.02H169.06Z" fill="none" stroke="#0000ff" stroke-width="0.95"/><path d="M174.4 184.74L177.8 190.04H171Z" fill="none" stroke="#0000ff" stroke-width="0.95"/><path d="M176.34 185.18L179.74 190.48H172.94Z" fill="none" stroke="#0000ff" stroke-width="0.95"/><path d="M178.28 183.03L181.68 188.33H174.88Z" fill="none" stroke="#0000ff" stroke-width="0.95"/><path d="M180.22 184.77L183.62 190.07H176.82Z" fill="none" stroke="#0000ff" stroke-width="0.95"/><path d="M182.16 183.99L185.56 189.29H178.76Z" fill="none" stroke="#0000ff" stroke-width="0.95"/><path d="M184.1 186.21L187.5 191.51H180.7Z" fill="none" stroke="#0000ff" stroke-width="0.95"/><path d="M186.04 184.11L189.44 189.41H182.64Z" fill="none" stroke="#0000ff" stroke-width="0.95"/><path d="M187.98 185.83L191.38 191.13H184.58Z" fill="none" stroke="#0000ff" stroke-width="0.95"/><path d="M189.92 187.04L193.32 192.34H186.52Z" fill="none" stroke="#0000ff" stroke-width="0.95"/><path d="M191.86 184.7L195.26 190H188.46Z" fill="none" stroke="#0000ff" stroke-width="0.95"/><path d="M193.8 184.33L197.2 189.63H190.4Z" fill="none" stroke="#0000ff" stroke-width="0.95"/><path d="M195.75 185.33L199.15 190.63H192.35Z" fill="none" stroke="#0000ff" stroke-width="0.95"/><path d="M197.69 185.07L201.09 190.37H194.29Z" fill="none" stroke="#0000ff" stroke-width="0.95"/><path d="M199.63 183.8L203.03 189.1H196.23Z" fill="none" stroke="#0000ff" stroke-width="0.95"/><path d="M201.57 185.64L204.97 190.94H198.17Z" fill="none" stroke="#0000ff" stroke-width="0.95"/><path d="M203.51 187.6L206.91 192.9H200.11Z" fill="none" stroke="#0000ff" stroke-width="0.95"/><path d="M205.45 184.7L208.85 190H202.05Z" fill="none" stroke="#0000ff" stroke-width="0.95"/><path d="M207.39 184.75L210.79 190.05H203.99Z" fill="none" stroke="#0000ff" stroke-width="0.95"/><path d="M209.33 183.67L212.73 188.97H205.93Z" fill="none" stroke="#0000ff" stroke-width="0.95"/><path d="M211.27 185.39L214.67 190.69H207.87Z" fill="none" stroke="#0000ff" stroke-width="0.95"/><path d="M213.21 183.39L216.61 188.69H209.81Z" fill="none" stroke="#0000ff" stroke-width="0.95"/><path d="M215.15 183.56L218.55 188.86H211.75Z" fill="none" stroke="#0000ff" stroke-width="0.95"/><path d="M217.09 186.56L220.49 191.86H213.69Z" fill="none" stroke="#0000ff" stroke-width="0.95"/><path d="M219.03 183.77L222.43 189.07H215.63Z" fill="none" stroke="#0000ff" stroke-width="0.95"/><path d="M220.97 186.23L224.37 191.53H217.57Z" fill="none" stroke="#0000ff" stroke-width="0.95"/><path d="M222.91 186.63L226.31 191.93H219.51Z" fill="none" stroke="#0000ff" stroke-width="0.95"/><path d="M224.86 184.8L228.26 190.1H221.46Z" fill="none" stroke="#0000ff" stroke-width="0.95"/><path d="M226.8 184.87L230.2 190.17H223.4Z" fill="none" stroke="#0000ff" stroke-width="0.95"/><path d="M228.74 186.27L232.14 191.57H225.34Z" fill="none" stroke="#0000ff" stroke-width="0.95"/><path d="M230.68 183.31L234.08 188.61H227.28Z" fill="none" stroke="#0000ff" stroke-width="0.95"/><path d="M232.62 182.44L236.02 187.74H229.22Z" fill="none" stroke="#0000ff" stroke-width="0.95"/><path d="M234.56 181.08L237.96 186.38H231.16Z" fill="none" stroke="#0000ff" stroke-width="0.95"/><path d="M236.5 182.21L239.9 187.51H233.1Z" fill="none" stroke="#0000ff" stroke-width="0.95"/><path d="M238.44 183.26L241.84 188.56H235.04Z" fill="none" stroke="#0000ff" stroke-width="0.95"/><path d="M240.38 181.9L243.78 187.2H236.98Z" fill="none" stroke="#0000ff" stroke-width="0.95"/><path d="M242.32 178.87L245.72 184.17H238.92Z" fill="none" stroke="#0000ff" stroke-width="0.95"/><path d="M244.26 177.91L247.66 183.21H240.86Z" fill="none" stroke="#0000ff" stroke-width="0.95"/><path d="M246.2 177.02L249.6 182.32H242.8Z" fill="none" stroke="#0000ff" stroke-width="0.95"/><path d="M248.14 176.14L251.54 181.44H244.74Z" fill="none" stroke="#0000ff" stroke-width="0.95"/><path d="M250.08 173.57L253.48 178.87H246.68Z" fill="none" stroke="#0000ff" stroke-width="0.95"/><path d="M252.02 171.58L255.42 176.88H248.62Z" fill="none" stroke="#0000ff" stroke-width="0.95"/><path d="M253.97 169.14L257.37 174.44H250.57Z" fill="none" stroke="#0000ff" stroke-width="0.95"/><path d="M255.91 165.99L259.31 171.29H252.51Z" fill="none" stroke="#0000ff" stroke-width="0.95"/><path d="M257.85 163.39L261.25 168.69H254.45Z" fill="none" stroke="#0000ff" stroke-width="0.95"/><path d="M259.79 160.61L263.19 165.91H256.39Z" fill="none" stroke="#0000ff" stroke-width="0.95"/><path d="M261.73 157.33L265.13 162.63H258.33Z" fill="none" stroke="#0000ff" stroke-width="0.95"/><path d="M263.67 154.42L267.07 159.72H260.27Z" fill="none" stroke="#0000ff" stroke-width="0.95"/><path d="M265.61 151.69L269.01 156.99H262.21Z" fill="none" stroke="#0000ff" stroke-width="0.95"/><path d="M267.55 147.48L270.95 152.78H264.15Z" fill="none" stroke="#0000ff" stroke-width="0.95"/><path d="M269.49 143.44L272.89 148.74H266.09Z" fill="none" stroke="#0000ff" stroke-width="0.95"/><path d="M271.43 138.94L274.83 144.24H268.03Z" fill="none" stroke="#0000ff" stroke-width="0.95"/><path d="M273.37 135.83L276.77 141.13H269.97Z" fill="none" stroke="#0000ff" stroke-width="0.95"/><path d="M275.31 131.27L278.71 136.57H271.91Z" fill="none" stroke="#0000ff" stroke-width="0.95"/><path d="M277.25 127.52L280.65 132.82H273.85Z" fill="none" stroke="#0000ff" stroke-width="0.95"/><path d="M279.19 124.19L282.59 129.49H275.79Z" fill="none" stroke="#0000ff" stroke-width="0.95"/><path d="M281.13 120.29L284.53 125.59H277.73Z" fill="none" stroke="#0000ff" stroke-width="0.95"/><path d="M283.08 116.3L286.48 121.6H279.68Z" fill="none" stroke="#0000ff" stroke-width="0.95"/><path d="M285.02 112.27L288.42 117.57H281.62Z" fill="none" stroke="#0000ff" stroke-width="0.95"/><path d="M286.96 108.75L290.36 114.05H283.56Z" fill="none" stroke="#0000ff" stroke-width="0.95"/><path d="M288.9 105.02L292.3 110.32H285.5Z" fill="none" stroke="#0000ff" stroke-width="0.95"/><path d="M290.84 101.57L294.24 106.87H287.44Z" fill="none" stroke="#0000ff" stroke-width="0.95"/><path d="M292.78 98.19L296.18 103.49H289.38Z" fill="none" stroke="#0000ff" stroke-width="0.95"/><path d="M294.72 94.47L298.12 99.77H291.32Z" fill="none" stroke="#0000ff" stroke-width="0.95"/><path d="M296.66 90.9L300.06 96.2H293.26Z" fill="none" stroke="#0000ff" stroke-width="0.95"/><path d="M298.6 87.42L302 92.72H295.2Z" fill="none" stroke="#0000ff" stroke-width="0.95"/><path d="M300.54 84.09L303.94 89.39H297.14Z" fill="none" stroke="#0000ff" stroke-width="0.95"/><path d="M302.48 80.66L305.88 85.96H299.08Z" fill="none" stroke="#0000ff" stroke-width="0.95"/><path d="M304.42 77.22L307.82 82.52H301.02Z" fill="none" stroke="#0000ff" stroke-width="0.95"/><path d="M306.36 73.72L309.76 79.02H302.96Z" fill="none" stroke="#0000ff" stroke-width="0.95"/><path d="M308.3 70.19L311.7 75.49H304.9Z" fill="none" stroke="#0000ff" stroke-width="0.95"/><path d="M310.24 66.68L313.64 71.98H306.84Z" fill="none" stroke="#0000ff" stroke-width="0.95"/><path d="M312.19 63.23L315.59 68.53H308.79Z" fill="none" stroke="#0000ff" stroke-width="0.95"/><path d="M314.13 59.75L317.53 65.05H310.73Z" fill="none" stroke="#0000ff" stroke-width="0.95"/><path d="M316.07 56.28L319.47 61.58H312.67Z" fill="none" stroke="#0000ff" stroke-width="0.95"/><path d="M318.01 53.08L321.41 58.38H314.61Z" fill="none" stroke="#0000ff" stroke-width="0.95"/><path d="M319.95 50.31L323.35 55.61H316.55Z" fill="none" stroke="#0000ff" stroke-width="0.95"/><path d="M321.89 47.81L325.29 53.11H318.49Z" fill="none" stroke="#0000ff" stroke-width="0.95"/><path d="M323.83 45.52L327.23 50.82H320.43Z" fill="none" stroke="#0000ff" stroke-width="0.95"/><path d="M325.77 43.43L329.17 48.73H322.37Z" fill="none" stroke="#0000ff" stroke-width="0.95"/><path d="M327.71 41.52L331.11 46.82H324.31Z" fill="none" stroke="#0000ff" stroke-width="0.95"/><path d="M329.65 39.75L333.05 45.05H326.25Z" fill="none" stroke="#0000ff" stroke-width="0.95"/><path d="M331.59 38.12L334.99 43.42H328.19Z" fill="none" stroke="#0000ff" stroke-width="0.95"/><path d="M333.53 36.62L336.93 41.92H330.13Z" fill="none" stroke="#0000ff" stroke-width="0.95"/><path d="M335.47 35.19L338.87 40.49H332.07Z" fill="none" stroke="#0000ff" stroke-width="0.95"/><path d="M337.41 33.86L340.81 39.16H334.01Z" fill="none" stroke="#0000ff" stroke-width="0.95"/><path d="M339.35 32.72L342.75 38.02H335.95Z" fill="none" stroke="#0000ff" stroke-width="0.95"/><path d="M341.3 31.8L344.7 37.1H337.9Z" fill="none" stroke="#0000ff" stroke-width="0.95"/><path d="M343.24 31.05L346.64 36.35H339.84Z" fill="none" stroke="#0000ff" stroke-width="0.95"/><path d="M345.18 30.52L348.58 35.82H341.78Z" fill="none" stroke="#0000ff" stroke-width="0.95"/><path d="M347.12 30.2L350.52 35.5H343.72Z" fill="none" stroke="#0000ff" stroke-width="0.95"/><path d="M349.06 30.36L352.46 35.66H345.66Z" fill="none" stroke="#0000ff" stroke-width="0.95"/><path d="M351 30.7L354.4 36H347.6Z" fill="none" stroke="#0000ff" stroke-width="0.95"/><path d="M352.94 31.16L356.34 36.46H349.54Z" fill="none" stroke="#0000ff" stroke-width="0.95"/><path d="M354.88 31.84L358.28 37.14H351.48Z" fill="none" stroke="#0000ff" stroke-width="0.95"/><path d="M356.82 32.73L360.22 38.03H353.42Z" fill="none" stroke="#0000ff" stroke-width="0.95"/><path d="M358.76 34L362.16 39.3H355.36Z" fill="none" stroke="#0000ff" stroke-width="0.95"/><path d="M360.7 36.04L364.1 41.34H357.3Z" fill="none" stroke="#0000ff" stroke-width="0.95"/><path d="M362.64 38.65L366.04 43.95H359.24Z" fill="none" stroke="#0000ff" stroke-width="0.95"/><path d="M364.58 41.59L367.98 46.89H361.18Z" fill="none" stroke="#0000ff" stroke-width="0.95"/><path d="M366.52 45.35L369.92 50.65H363.12Z" fill="none" stroke="#0000ff" stroke-width="0.95"/><path d="M368.46 49.7L371.86 55H365.06Z" fill="none" stroke="#0000ff" stroke-width="0.95"/><path d="M370.41 54.3L373.81 59.6H367.01Z" fill="none" stroke="#0000ff" stroke-width="0.95"/><path d="M372.35 59.4L375.75 64.7H368.95Z" fill="none" stroke="#0000ff" stroke-width="0.95"/><path d="M374.29 64.6L377.69 69.9H370.89Z" fill="none" stroke="#0000ff" stroke-width="0.95"/><path d="M376.23 70.8L379.63 76.1H372.83Z" fill="none" stroke="#0000ff" stroke-width="0.95"/><path d="M378.17 77.2L381.57 82.5H374.77Z" fill="none" stroke="#0000ff" stroke-width="0.95"/><path d="M380.11 84.8L383.51 90.1H376.71Z" fill="none" stroke="#0000ff" stroke-width="0.95"/><path d="M382.05 93.3L385.45 98.6H378.65Z" fill="none" stroke="#0000ff" stroke-width="0.95"/><path d="M383.99 102.6L387.39 107.9H380.59Z" fill="none" stroke="#0000ff" stroke-width="0.95"/><path d="M385.93 112.3L389.33 117.6H382.53Z" fill="none" stroke="#0000ff" stroke-width="0.95"/><path d="M387.87 123.55L391.27 128.85H384.47Z" fill="none" stroke="#0000ff" stroke-width="0.95"/><path d="M389.81 135.3L393.21 140.6H386.41Z" fill="none" stroke="#0000ff" stroke-width="0.95"/><path d="M391.75 148.55L395.15 153.85H388.35Z" fill="none" stroke="#0000ff" stroke-width="0.95"/><path d="M393.69 163.3L397.09 168.6H390.29Z" fill="none" stroke="#0000ff" stroke-width="0.95"/><path d="M395.63 177.3L399.03 182.6H392.23Z" fill="none" stroke="#0000ff" stroke-width="0.95"/><path d="M397.57 191.6L400.97 196.9H394.17Z" fill="none" stroke="#0000ff" stroke-width="0.95"/><path d="M399.52 216.3L402.92 221.6H396.12Z" fill="none" stroke="#0000ff" stroke-width="0.95"/><path d="M401.46 246.3L404.86 251.6H398.06Z" fill="none" stroke="#0000ff" stroke-width="0.95"/></g><g><path d="M122 210.75V212.85M120.3 210.75h3.4M120.3 212.85h3.4M123.94 196.05V197.43M122.24 196.05h3.4M122.24 197.43h3.4M125.88 196.71V198.11M124.18 196.71h3.4M124.18 198.11h3.4M127.82 195.8V197.17M126.12 195.8h3.4M126.12 197.17h3.4M129.76 195.46V196.82M128.06 195.46h3.4M128.06 196.82h3.4M131.7 197.01V198.43M130 197.01h3.4M130 198.43h3.4M133.64 198.16V199.63M131.94 198.16h3.4M131.94 199.63h3.4M135.58 195.13V196.47M133.88 195.13h3.4M133.88 196.47h3.4M137.53 197.03V198.45M135.83 197.03h3.4M135.83 198.45h3.4M139.47 196.2V197.59M137.77 196.2h3.4M137.77 197.59h3.4M141.41 195.77V197.14M139.71 195.77h3.4M139.71 197.14h3.4M143.35 198.04V199.5M141.65 198.04h3.4M141.65 199.5h3.4M145.29 196.3V197.69M143.59 196.3h3.4M143.59 197.69h3.4M147.23 198.8V200.29M145.53 198.8h3.4M145.53 200.29h3.4M149.17 195.93V197.31M147.47 195.93h3.4M147.47 197.31h3.4M151.11 197.36V198.79M149.41 197.36h3.4M149.41 198.79h3.4M153.05 196.57V197.97M151.35 196.57h3.4M151.35 197.97h3.4M154.99 195.88V197.26M153.29 195.88h3.4M153.29 197.26h3.4M156.93 197.53V198.97M155.23 197.53h3.4M155.23 198.97h3.4M158.87 196.57V197.97M157.17 196.57h3.4M157.17 197.97h3.4M160.81 197.47V198.9M159.11 197.47h3.4M159.11 198.9h3.4M162.75 196.6V198.01M161.05 196.6h3.4M161.05 198.01h3.4M164.69 195.26V196.61M162.99 195.26h3.4M162.99 196.61h3.4M166.64 196.41V197.8M164.94 196.41h3.4M164.94 197.8h3.4M168.58 196.53V197.93M166.88 196.53h3.4M166.88 197.93h3.4M170.52 197.56V199.01M168.82 197.56h3.4M168.82 199.01h3.4M172.46 195.2V196.54M170.76 195.2h3.4M170.76 196.54h3.4M174.4 196.18V197.57M172.7 196.18h3.4M172.7 197.57h3.4M176.34 194.05V195.35M174.64 194.05h3.4M174.64 195.35h3.4M178.28 196.87V198.29M176.58 196.87h3.4M176.58 198.29h3.4M180.22 194.68V196M178.52 194.68h3.4M178.52 196h3.4M182.16 193.7V195M180.46 193.7h3.4M180.46 195h3.4M184.1 195.73V197.1M182.4 195.73h3.4M182.4 197.1h3.4M186.04 197.04V198.46M184.34 197.04h3.4M184.34 198.46h3.4M187.98 193.79V195.08M186.28 193.79h3.4M186.28 195.08h3.4M189.92 194.24V195.55M188.22 194.24h3.4M188.22 195.55h3.4M191.86 194.61V195.93M190.16 194.61h3.4M190.16 195.93h3.4M193.8 194.1V195.41M192.1 194.1h3.4M192.1 195.41h3.4M195.75 195.88V197.26M194.05 195.88h3.4M194.05 197.26h3.4M197.69 194.44V195.75M195.99 194.44h3.4M195.99 195.75h3.4M199.63 194.51V195.84M197.93 194.51h3.4M197.93 195.84h3.4M201.57 196.05V197.43M199.87 196.05h3.4M199.87 197.43h3.4M203.51 194.41V195.73M201.81 194.41h3.4M201.81 195.73h3.4M205.45 195.79V197.16M203.75 195.79h3.4M203.75 197.16h3.4M207.39 194.05V195.36M205.69 194.05h3.4M205.69 195.36h3.4M209.33 193.66V194.95M207.63 193.66h3.4M207.63 194.95h3.4M211.27 192.77V194.02M209.57 192.77h3.4M209.57 194.02h3.4M213.21 196.9V198.31M211.51 196.9h3.4M211.51 198.31h3.4M215.15 194.08V195.39M213.45 194.08h3.4M213.45 195.39h3.4M217.09 194.44V195.76M215.39 194.44h3.4M215.39 195.76h3.4M219.03 193.79V195.09M217.33 193.79h3.4M217.33 195.09h3.4M220.97 193.64V194.93M219.27 193.64h3.4M219.27 194.93h3.4M222.91 193.03V194.3M221.21 193.03h3.4M221.21 194.3h3.4M224.86 194.47V195.79M223.16 194.47h3.4M223.16 195.79h3.4M226.8 190.55V191.74M225.1 190.55h3.4M225.1 191.74h3.4M228.74 189.26V190.39M227.04 189.26h3.4M227.04 190.39h3.4M230.68 188.96V190.09M228.98 188.96h3.4M228.98 190.09h3.4M232.62 187.54V188.62M230.92 187.54h3.4M230.92 188.62h3.4M234.56 188.31V189.42M232.86 188.31h3.4M232.86 189.42h3.4M236.5 187.04V188.11M234.8 187.04h3.4M234.8 188.11h3.4M238.44 184.15V185.13M236.74 184.15h3.4M236.74 185.13h3.4M240.38 182.63V183.58M238.68 182.63h3.4M238.68 183.58h3.4M242.32 182.41V183.34M240.62 182.41h3.4M240.62 183.34h3.4M244.26 182.65V183.59M242.56 182.65h3.4M242.56 183.59h3.4M244.5 178.39h3.4M246.44 179.43h3.4M248.38 176.24h3.4M250.32 175.4h3.4M252.27 171.47h3.4M254.21 169.24h3.4M256.15 165.76h3.4M258.09 163.09h3.4M260.03 161.05h3.4M261.97 157.48h3.4M263.91 153.58h3.4M265.85 149.82h3.4M267.79 145.69h3.4M269.73 142.22h3.4M271.67 138.44h3.4M273.61 134.51h3.4M275.55 130.57h3.4M277.49 126.5h3.4M279.43 122.83h3.4M281.38 119.02h3.4M283.32 115.42h3.4M285.26 111.72h3.4M287.2 107.8h3.4M289.14 104.12h3.4M291.08 100.63h3.4M293.02 97.1h3.4M294.96 93.62h3.4M296.9 90.21h3.4M298.84 86.79h3.4M300.78 83.36h3.4M302.72 79.92h3.4M304.66 76.42h3.4M306.6 72.89h3.4M308.54 69.38h3.4M310.49 65.93h3.4M312.43 62.45h3.4M314.37 58.98h3.4M316.31 55.78h3.4M318.25 53.08h3.4M320.19 50.64h3.4M322.13 48.42h3.4M324.07 46.4h3.4M326.01 44.55h3.4M327.95 42.85h3.4M329.89 41.29h3.4M331.83 39.86h3.4M333.77 38.49h3.4M335.71 37.23h3.4M337.65 36.16h3.4M339.6 35.31h3.4M341.54 34.62h3.4M343.48 34.15h3.4M345.42 33.9h3.4M347.36 34.06h3.4M349.3 34.4h3.4M351.24 34.86h3.4M353.18 35.54h3.4M355.12 36.43h3.4M357.06 37.7h3.4M359 39.74h3.4M360.94 42.35h3.4M362.88 45.29h3.4M364.82 49.05h3.4M366.76 53.4h3.4M368.71 58h3.4M370.65 63.1h3.4M372.59 68.3h3.4M374.53 74.5h3.4M376.47 80.9h3.4M378.41 88.5h3.4M380.35 97h3.4M382.29 106.3h3.4M384.23 116h3.4M386.17 127.25h3.4M388.11 139h3.4M390.05 152.25h3.4M391.99 167h3.4M393.93 181h3.4M397.57 201.49V203.11M395.87 201.49h3.4M395.87 203.11h3.4M399.52 212.4V214.6M397.82 212.4h3.4M397.82 214.6h3.4M401.46 245.11V250.89M399.76 245.11h3.4M399.76 250.89h3.4" stroke="#8b008b" stroke-width="0.9" fill="none"/><rect x="118.9" y="208.7" width="6.2" height="6.2" fill="#8b008b"/><rect x="120.84" y="193.64" width="6.2" height="6.2" fill="#8b008b"/><rect x="122.78" y="194.31" width="6.2" height="6.2" fill="#8b008b"/><rect x="124.72" y="193.38" width="6.2" height="6.2" fill="#8b008b"/><rect x="126.66" y="193.04" width="6.2" height="6.2" fill="#8b008b"/><rect x="128.6" y="194.62" width="6.2" height="6.2" fill="#8b008b"/><rect x="130.54" y="195.8" width="6.2" height="6.2" fill="#8b008b"/><rect x="132.48" y="192.7" width="6.2" height="6.2" fill="#8b008b"/><rect x="134.43" y="194.64" width="6.2" height="6.2" fill="#8b008b"/><rect x="136.37" y="193.79" width="6.2" height="6.2" fill="#8b008b"/><rect x="138.31" y="193.36" width="6.2" height="6.2" fill="#8b008b"/><rect x="140.25" y="195.67" width="6.2" height="6.2" fill="#8b008b"/><rect x="142.19" y="193.9" width="6.2" height="6.2" fill="#8b008b"/><rect x="144.13" y="196.45" width="6.2" height="6.2" fill="#8b008b"/><rect x="146.07" y="193.52" width="6.2" height="6.2" fill="#8b008b"/><rect x="148.01" y="194.98" width="6.2" height="6.2" fill="#8b008b"/><rect x="149.95" y="194.17" width="6.2" height="6.2" fill="#8b008b"/><rect x="151.89" y="193.47" width="6.2" height="6.2" fill="#8b008b"/><rect x="153.83" y="195.15" width="6.2" height="6.2" fill="#8b008b"/><rect x="155.77" y="194.17" width="6.2" height="6.2" fill="#8b008b"/><rect x="157.71" y="195.08" width="6.2" height="6.2" fill="#8b008b"/><rect x="159.65" y="194.21" width="6.2" height="6.2" fill="#8b008b"/><rect x="161.59" y="192.83" width="6.2" height="6.2" fill="#8b008b"/><rect x="163.54" y="194.01" width="6.2" height="6.2" fill="#8b008b"/><rect x="165.48" y="194.13" width="6.2" height="6.2" fill="#8b008b"/><rect x="167.42" y="195.19" width="6.2" height="6.2" fill="#8b008b"/><rect x="169.36" y="192.77" width="6.2" height="6.2" fill="#8b008b"/><rect x="171.3" y="193.78" width="6.2" height="6.2" fill="#8b008b"/><rect x="173.24" y="191.6" width="6.2" height="6.2" fill="#8b008b"/><rect x="175.18" y="194.48" width="6.2" height="6.2" fill="#8b008b"/><rect x="177.12" y="192.24" width="6.2" height="6.2" fill="#8b008b"/><rect x="179.06" y="191.25" width="6.2" height="6.2" fill="#8b008b"/><rect x="181" y="193.31" width="6.2" height="6.2" fill="#8b008b"/><rect x="182.94" y="194.65" width="6.2" height="6.2" fill="#8b008b"/><rect x="184.88" y="191.33" width="6.2" height="6.2" fill="#8b008b"/><rect x="186.82" y="191.8" width="6.2" height="6.2" fill="#8b008b"/><rect x="188.76" y="192.17" width="6.2" height="6.2" fill="#8b008b"/><rect x="190.7" y="191.66" width="6.2" height="6.2" fill="#8b008b"/><rect x="192.65" y="193.47" width="6.2" height="6.2" fill="#8b008b"/><rect x="194.59" y="192" width="6.2" height="6.2" fill="#8b008b"/><rect x="196.53" y="192.08" width="6.2" height="6.2" fill="#8b008b"/><rect x="198.47" y="193.64" width="6.2" height="6.2" fill="#8b008b"/><rect x="200.41" y="191.97" width="6.2" height="6.2" fill="#8b008b"/><rect x="202.35" y="193.37" width="6.2" height="6.2" fill="#8b008b"/><rect x="204.29" y="191.61" width="6.2" height="6.2" fill="#8b008b"/><rect x="206.23" y="191.21" width="6.2" height="6.2" fill="#8b008b"/><rect x="208.17" y="190.29" width="6.2" height="6.2" fill="#8b008b"/><rect x="210.11" y="194.51" width="6.2" height="6.2" fill="#8b008b"/><rect x="212.05" y="191.63" width="6.2" height="6.2" fill="#8b008b"/><rect x="213.99" y="192" width="6.2" height="6.2" fill="#8b008b"/><rect x="215.93" y="191.34" width="6.2" height="6.2" fill="#8b008b"/><rect x="217.87" y="191.19" width="6.2" height="6.2" fill="#8b008b"/><rect x="219.81" y="190.57" width="6.2" height="6.2" fill="#8b008b"/><rect x="221.76" y="192.03" width="6.2" height="6.2" fill="#8b008b"/><rect x="223.7" y="188.05" width="6.2" height="6.2" fill="#8b008b"/><rect x="225.64" y="186.73" width="6.2" height="6.2" fill="#8b008b"/><rect x="227.58" y="186.42" width="6.2" height="6.2" fill="#8b008b"/><rect x="229.52" y="184.98" width="6.2" height="6.2" fill="#8b008b"/><rect x="231.46" y="185.77" width="6.2" height="6.2" fill="#8b008b"/><rect x="233.4" y="184.47" width="6.2" height="6.2" fill="#8b008b"/><rect x="235.34" y="181.54" width="6.2" height="6.2" fill="#8b008b"/><rect x="237.28" y="180.01" width="6.2" height="6.2" fill="#8b008b"/><rect x="239.22" y="179.78" width="6.2" height="6.2" fill="#8b008b"/><rect x="241.16" y="180.02" width="6.2" height="6.2" fill="#8b008b"/><rect x="243.1" y="175.29" width="6.2" height="6.2" fill="#8b008b"/><rect x="245.04" y="176.33" width="6.2" height="6.2" fill="#8b008b"/><rect x="246.98" y="173.14" width="6.2" height="6.2" fill="#8b008b"/><rect x="248.92" y="172.3" width="6.2" height="6.2" fill="#8b008b"/><rect x="250.87" y="168.37" width="6.2" height="6.2" fill="#8b008b"/><rect x="252.81" y="166.14" width="6.2" height="6.2" fill="#8b008b"/><rect x="254.75" y="162.66" width="6.2" height="6.2" fill="#8b008b"/><rect x="256.69" y="159.99" width="6.2" height="6.2" fill="#8b008b"/><rect x="258.63" y="157.95" width="6.2" height="6.2" fill="#8b008b"/><rect x="260.57" y="154.38" width="6.2" height="6.2" fill="#8b008b"/><rect x="262.51" y="150.48" width="6.2" height="6.2" fill="#8b008b"/><rect x="264.45" y="146.72" width="6.2" height="6.2" fill="#8b008b"/><rect x="266.39" y="142.59" width="6.2" height="6.2" fill="#8b008b"/><rect x="268.33" y="139.12" width="6.2" height="6.2" fill="#8b008b"/><rect x="270.27" y="135.34" width="6.2" height="6.2" fill="#8b008b"/><rect x="272.21" y="131.41" width="6.2" height="6.2" fill="#8b008b"/><rect x="274.15" y="127.47" width="6.2" height="6.2" fill="#8b008b"/><rect x="276.09" y="123.4" width="6.2" height="6.2" fill="#8b008b"/><rect x="278.03" y="119.73" width="6.2" height="6.2" fill="#8b008b"/><rect x="279.98" y="115.92" width="6.2" height="6.2" fill="#8b008b"/><rect x="281.92" y="112.32" width="6.2" height="6.2" fill="#8b008b"/><rect x="283.86" y="108.62" width="6.2" height="6.2" fill="#8b008b"/><rect x="285.8" y="104.7" width="6.2" height="6.2" fill="#8b008b"/><rect x="287.74" y="101.02" width="6.2" height="6.2" fill="#8b008b"/><rect x="289.68" y="97.53" width="6.2" height="6.2" fill="#8b008b"/><rect x="291.62" y="94" width="6.2" height="6.2" fill="#8b008b"/><rect x="293.56" y="90.52" width="6.2" height="6.2" fill="#8b008b"/><rect x="295.5" y="87.11" width="6.2" height="6.2" fill="#8b008b"/><rect x="297.44" y="83.69" width="6.2" height="6.2" fill="#8b008b"/><rect x="299.38" y="80.26" width="6.2" height="6.2" fill="#8b008b"/><rect x="301.32" y="76.82" width="6.2" height="6.2" fill="#8b008b"/><rect x="303.26" y="73.32" width="6.2" height="6.2" fill="#8b008b"/><rect x="305.2" y="69.79" width="6.2" height="6.2" fill="#8b008b"/><rect x="307.14" y="66.28" width="6.2" height="6.2" fill="#8b008b"/><rect x="309.09" y="62.83" width="6.2" height="6.2" fill="#8b008b"/><rect x="311.03" y="59.35" width="6.2" height="6.2" fill="#8b008b"/><rect x="312.97" y="55.88" width="6.2" height="6.2" fill="#8b008b"/><rect x="314.91" y="52.68" width="6.2" height="6.2" fill="#8b008b"/><rect x="316.85" y="49.98" width="6.2" height="6.2" fill="#8b008b"/><rect x="318.79" y="47.54" width="6.2" height="6.2" fill="#8b008b"/><rect x="320.73" y="45.32" width="6.2" height="6.2" fill="#8b008b"/><rect x="322.67" y="43.3" width="6.2" height="6.2" fill="#8b008b"/><rect x="324.61" y="41.45" width="6.2" height="6.2" fill="#8b008b"/><rect x="326.55" y="39.75" width="6.2" height="6.2" fill="#8b008b"/><rect x="328.49" y="38.19" width="6.2" height="6.2" fill="#8b008b"/><rect x="330.43" y="36.76" width="6.2" height="6.2" fill="#8b008b"/><rect x="332.37" y="35.39" width="6.2" height="6.2" fill="#8b008b"/><rect x="334.31" y="34.13" width="6.2" height="6.2" fill="#8b008b"/><rect x="336.25" y="33.06" width="6.2" height="6.2" fill="#8b008b"/><rect x="338.2" y="32.21" width="6.2" height="6.2" fill="#8b008b"/><rect x="340.14" y="31.52" width="6.2" height="6.2" fill="#8b008b"/><rect x="342.08" y="31.05" width="6.2" height="6.2" fill="#8b008b"/><rect x="344.02" y="30.8" width="6.2" height="6.2" fill="#8b008b"/><rect x="345.96" y="30.96" width="6.2" height="6.2" fill="#8b008b"/><rect x="347.9" y="31.3" width="6.2" height="6.2" fill="#8b008b"/><rect x="349.84" y="31.76" width="6.2" height="6.2" fill="#8b008b"/><rect x="351.78" y="32.44" width="6.2" height="6.2" fill="#8b008b"/><rect x="353.72" y="33.33" width="6.2" height="6.2" fill="#8b008b"/><rect x="355.66" y="34.6" width="6.2" height="6.2" fill="#8b008b"/><rect x="357.6" y="36.64" width="6.2" height="6.2" fill="#8b008b"/><rect x="359.54" y="39.25" width="6.2" height="6.2" fill="#8b008b"/><rect x="361.48" y="42.19" width="6.2" height="6.2" fill="#8b008b"/><rect x="363.42" y="45.95" width="6.2" height="6.2" fill="#8b008b"/><rect x="365.36" y="50.3" width="6.2" height="6.2" fill="#8b008b"/><rect x="367.31" y="54.9" width="6.2" height="6.2" fill="#8b008b"/><rect x="369.25" y="60" width="6.2" height="6.2" fill="#8b008b"/><rect x="371.19" y="65.2" width="6.2" height="6.2" fill="#8b008b"/><rect x="373.13" y="71.4" width="6.2" height="6.2" fill="#8b008b"/><rect x="375.07" y="77.8" width="6.2" height="6.2" fill="#8b008b"/><rect x="377.01" y="85.4" width="6.2" height="6.2" fill="#8b008b"/><rect x="378.95" y="93.9" width="6.2" height="6.2" fill="#8b008b"/><rect x="380.89" y="103.2" width="6.2" height="6.2" fill="#8b008b"/><rect x="382.83" y="112.9" width="6.2" height="6.2" fill="#8b008b"/><rect x="384.77" y="124.15" width="6.2" height="6.2" fill="#8b008b"/><rect x="386.71" y="135.9" width="6.2" height="6.2" fill="#8b008b"/><rect x="388.65" y="149.15" width="6.2" height="6.2" fill="#8b008b"/><rect x="390.59" y="163.9" width="6.2" height="6.2" fill="#8b008b"/><rect x="392.53" y="177.9" width="6.2" height="6.2" fill="#8b008b"/><rect x="394.47" y="199.2" width="6.2" height="6.2" fill="#8b008b"/><rect x="396.42" y="210.4" width="6.2" height="6.2" fill="#8b008b"/><rect x="398.36" y="244.9" width="6.2" height="6.2" fill="#8b008b"/></g><g><path d="M122 220.6V223.4M120.3 220.6h3.4M120.3 223.4h3.4M123.94 206.11V207.95M122.24 206.11h3.4M122.24 207.95h3.4M125.88 207.72V209.65M124.18 207.72h3.4M124.18 209.65h3.4M127.82 212.36V214.57M126.12 212.36h3.4M126.12 214.57h3.4M129.76 208.32V210.28M128.06 208.32h3.4M128.06 210.28h3.4M131.7 209.86V211.91M130 209.86h3.4M130 211.91h3.4M133.64 213.42V215.7M131.94 213.42h3.4M131.94 215.7h3.4M135.58 213.01V215.26M133.88 213.01h3.4M133.88 215.26h3.4M137.53 208.84V210.83M135.83 208.84h3.4M135.83 210.83h3.4M139.47 208.46V210.43M137.77 208.46h3.4M137.77 210.43h3.4M141.41 205.94V207.77M139.71 205.94h3.4M139.71 207.77h3.4M143.35 207.28V209.18M141.65 207.28h3.4M141.65 209.18h3.4M145.29 209.95V212.01M143.59 209.95h3.4M143.59 212.01h3.4M147.23 209.83V211.88M145.53 209.83h3.4M145.53 211.88h3.4M149.17 209.09V211.1M147.47 209.09h3.4M147.47 211.1h3.4M151.11 211.18V213.31M149.41 211.18h3.4M149.41 213.31h3.4M153.05 206.86V208.75M151.35 206.86h3.4M151.35 208.75h3.4M154.99 208.54V210.52M153.29 208.54h3.4M153.29 210.52h3.4M156.93 210.38V212.46M155.23 210.38h3.4M155.23 212.46h3.4M158.87 209.96V212.01M157.17 209.96h3.4M157.17 212.01h3.4M160.81 211.04V213.16M159.11 211.04h3.4M159.11 213.16h3.4M162.75 209.33V211.35M161.05 209.33h3.4M161.05 211.35h3.4M164.69 207.54V209.45M162.99 207.54h3.4M162.99 209.45h3.4M166.64 208.94V210.93M164.94 208.94h3.4M164.94 210.93h3.4M168.58 205.45V207.26M166.88 205.45h3.4M166.88 207.26h3.4M170.52 203.66V205.38M168.82 203.66h3.4M168.82 205.38h3.4M172.46 208.47V210.44M170.76 208.47h3.4M170.76 210.44h3.4M174.4 206.66V208.53M172.7 206.66h3.4M172.7 208.53h3.4M176.34 207.15V209.05M174.64 207.15h3.4M174.64 209.05h3.4M178.28 202.35V204M176.58 202.35h3.4M176.58 204h3.4M180.22 205.08V206.86M178.52 205.08h3.4M178.52 206.86h3.4M182.16 204.3V206.04M180.46 204.3h3.4M180.46 206.04h3.4M184.1 203.46V205.17M182.4 203.46h3.4M182.4 205.17h3.4M186.04 200.18V201.73M184.34 200.18h3.4M184.34 201.73h3.4M187.98 204.11V205.85M186.28 204.11h3.4M186.28 205.85h3.4M189.92 206.5V208.36M188.22 206.5h3.4M188.22 208.36h3.4M191.86 205.12V206.91M190.16 205.12h3.4M190.16 206.91h3.4M193.8 202.78V204.45M192.1 202.78h3.4M192.1 204.45h3.4M195.75 203.77V205.5M194.05 203.77h3.4M194.05 205.5h3.4M197.69 205.14V206.93M195.99 205.14h3.4M195.99 206.93h3.4M199.63 197.58V199.02M197.93 197.58h3.4M197.93 199.02h3.4M201.57 202.79V204.47M199.87 202.79h3.4M199.87 204.47h3.4M203.51 203.87V205.6M201.81 203.87h3.4M201.81 205.6h3.4M205.45 203.83V205.56M203.75 203.83h3.4M203.75 205.56h3.4M207.39 205.51V207.32M205.69 205.51h3.4M205.69 207.32h3.4M209.33 203.96V205.69M207.63 203.96h3.4M207.63 205.69h3.4M211.27 201.88V203.52M209.57 201.88h3.4M209.57 203.52h3.4M213.21 201.37V202.98M211.51 201.37h3.4M211.51 202.98h3.4M215.15 201.76V203.38M213.45 201.76h3.4M213.45 203.38h3.4M217.09 198.68V200.17M215.39 198.68h3.4M215.39 200.17h3.4M219.03 199.01V200.51M217.33 199.01h3.4M217.33 200.51h3.4M220.97 200.07V201.62M219.27 200.07h3.4M219.27 201.62h3.4M222.91 201.18V202.77M221.21 201.18h3.4M221.21 202.77h3.4M224.86 196.63V198.04M223.16 196.63h3.4M223.16 198.04h3.4M226.8 195.95V197.33M225.1 195.95h3.4M225.1 197.33h3.4M228.74 195.42V196.77M227.04 195.42h3.4M227.04 196.77h3.4M230.68 196.23V197.62M228.98 196.23h3.4M228.98 197.62h3.4M232.62 192.97V194.23M230.92 192.97h3.4M230.92 194.23h3.4M234.56 194.1V195.41M232.86 194.1h3.4M232.86 195.41h3.4M236.5 189.23V190.37M234.8 189.23h3.4M234.8 190.37h3.4M238.44 188.96V190.09M236.74 188.96h3.4M236.74 190.09h3.4M240.38 187.43V188.51M238.68 187.43h3.4M238.68 188.51h3.4M242.32 187.11V188.18M240.62 187.11h3.4M240.62 188.18h3.4M244.26 185.7V186.73M242.56 185.7h3.4M242.56 186.73h3.4M244.5 181.32h3.4M246.44 180.13h3.4M248.38 179.4h3.4M250.32 176.05h3.4M252.27 172.67h3.4M254.21 172.12h3.4M256.15 168.69h3.4M258.09 165.59h3.4M260.03 161.69h3.4M261.97 159.25h3.4M263.91 155.01h3.4M265.85 151.97h3.4M267.79 147.1h3.4M269.73 143.15h3.4M271.67 139.59h3.4M273.61 135.31h3.4M275.55 131.78h3.4M277.49 127.76h3.4M279.43 123.63h3.4M281.38 120.04h3.4M283.32 116.19h3.4M285.26 112.66h3.4M287.2 108.72h3.4M289.14 105.13h3.4M291.08 101.79h3.4M293.02 98.39h3.4M294.96 94.87h3.4M296.9 91.22h3.4M298.84 87.79h3.4M300.78 84.36h3.4M302.72 80.92h3.4M304.66 77.42h3.4M306.6 73.89h3.4M308.54 70.38h3.4M310.49 66.93h3.4M312.43 63.45h3.4M314.37 59.98h3.4M316.31 56.78h3.4M318.25 54.01h3.4M320.19 51.51h3.4M322.13 49.22h3.4M324.07 47.13h3.4M326.01 45.22h3.4M327.95 43.45h3.4M329.89 41.82h3.4M331.83 40.32h3.4M333.77 38.89h3.4M335.71 37.56h3.4M337.65 36.42h3.4M339.6 35.5h3.4M341.54 34.75h3.4M343.48 34.22h3.4M345.42 33.9h3.4M347.36 34.06h3.4M349.3 34.4h3.4M351.24 34.86h3.4M353.18 35.54h3.4M355.12 36.43h3.4M357.06 37.7h3.4M359 39.74h3.4M360.94 42.35h3.4M362.88 45.29h3.4M364.82 49.05h3.4M366.76 53.4h3.4M368.71 58h3.4M370.65 63.1h3.4M372.59 68.3h3.4M374.53 74.5h3.4M376.47 80.9h3.4M378.41 88.5h3.4M380.35 97h3.4M382.29 106.3h3.4M384.23 116h3.4M386.17 127.25h3.4M388.11 139h3.4M390.05 152.25h3.4M391.99 167h3.4M393.93 181h3.4M397.57 196.3V197.7M395.87 196.3h3.4M395.87 197.7h3.4M399.52 222.52V225.48M397.82 222.52h3.4M397.82 225.48h3.4M401.46 244.92V250.68M399.76 244.92h3.4M399.76 250.68h3.4" stroke="#000000" stroke-width="0.9" fill="none"/><circle cx="122" cy="222" r="3.45" fill="#000000"/><circle cx="123.94" cy="207.03" r="3.45" fill="#000000"/><circle cx="125.88" cy="208.68" r="3.45" fill="#000000"/><circle cx="127.82" cy="213.46" r="3.45" fill="#000000"/><circle cx="129.76" cy="209.3" r="3.45" fill="#000000"/><circle cx="131.7" cy="210.88" r="3.45" fill="#000000"/><circle cx="133.64" cy="214.56" r="3.45" fill="#000000"/><circle cx="135.58" cy="214.13" r="3.45" fill="#000000"/><circle cx="137.53" cy="209.84" r="3.45" fill="#000000"/><circle cx="139.47" cy="209.45" r="3.45" fill="#000000"/><circle cx="141.41" cy="206.86" r="3.45" fill="#000000"/><circle cx="143.35" cy="208.23" r="3.45" fill="#000000"/><circle cx="145.29" cy="210.98" r="3.45" fill="#000000"/><circle cx="147.23" cy="210.86" r="3.45" fill="#000000"/><circle cx="149.17" cy="210.1" r="3.45" fill="#000000"/><circle cx="151.11" cy="212.24" r="3.45" fill="#000000"/><circle cx="153.05" cy="207.81" r="3.45" fill="#000000"/><circle cx="154.99" cy="209.53" r="3.45" fill="#000000"/><circle cx="156.93" cy="211.42" r="3.45" fill="#000000"/><circle cx="158.87" cy="210.98" r="3.45" fill="#000000"/><circle cx="160.81" cy="212.1" r="3.45" fill="#000000"/><circle cx="162.75" cy="210.34" r="3.45" fill="#000000"/><circle cx="164.69" cy="208.49" r="3.45" fill="#000000"/><circle cx="166.64" cy="209.93" r="3.45" fill="#000000"/><circle cx="168.58" cy="206.35" r="3.45" fill="#000000"/><circle cx="170.52" cy="204.52" r="3.45" fill="#000000"/><circle cx="172.46" cy="209.46" r="3.45" fill="#000000"/><circle cx="174.4" cy="207.59" r="3.45" fill="#000000"/><circle cx="176.34" cy="208.1" r="3.45" fill="#000000"/><circle cx="178.28" cy="203.17" r="3.45" fill="#000000"/><circle cx="180.22" cy="205.97" r="3.45" fill="#000000"/><circle cx="182.16" cy="205.17" r="3.45" fill="#000000"/><circle cx="184.1" cy="204.31" r="3.45" fill="#000000"/><circle cx="186.04" cy="200.95" r="3.45" fill="#000000"/><circle cx="187.98" cy="204.98" r="3.45" fill="#000000"/><circle cx="189.92" cy="207.43" r="3.45" fill="#000000"/><circle cx="191.86" cy="206.01" r="3.45" fill="#000000"/><circle cx="193.8" cy="203.61" r="3.45" fill="#000000"/><circle cx="195.75" cy="204.63" r="3.45" fill="#000000"/><circle cx="197.69" cy="206.04" r="3.45" fill="#000000"/><circle cx="199.63" cy="198.3" r="3.45" fill="#000000"/><circle cx="201.57" cy="203.63" r="3.45" fill="#000000"/><circle cx="203.51" cy="204.74" r="3.45" fill="#000000"/><circle cx="205.45" cy="204.69" r="3.45" fill="#000000"/><circle cx="207.39" cy="206.41" r="3.45" fill="#000000"/><circle cx="209.33" cy="204.83" r="3.45" fill="#000000"/><circle cx="211.27" cy="202.7" r="3.45" fill="#000000"/><circle cx="213.21" cy="202.18" r="3.45" fill="#000000"/><circle cx="215.15" cy="202.57" r="3.45" fill="#000000"/><circle cx="217.09" cy="199.42" r="3.45" fill="#000000"/><circle cx="219.03" cy="199.76" r="3.45" fill="#000000"/><circle cx="220.97" cy="200.84" r="3.45" fill="#000000"/><circle cx="222.91" cy="201.97" r="3.45" fill="#000000"/><circle cx="224.86" cy="197.33" r="3.45" fill="#000000"/><circle cx="226.8" cy="196.64" r="3.45" fill="#000000"/><circle cx="228.74" cy="196.1" r="3.45" fill="#000000"/><circle cx="230.68" cy="196.93" r="3.45" fill="#000000"/><circle cx="232.62" cy="193.6" r="3.45" fill="#000000"/><circle cx="234.56" cy="194.76" r="3.45" fill="#000000"/><circle cx="236.5" cy="189.8" r="3.45" fill="#000000"/><circle cx="238.44" cy="189.53" r="3.45" fill="#000000"/><circle cx="240.38" cy="187.97" r="3.45" fill="#000000"/><circle cx="242.32" cy="187.65" r="3.45" fill="#000000"/><circle cx="244.26" cy="186.21" r="3.45" fill="#000000"/><circle cx="246.2" cy="181.32" r="3.45" fill="#000000"/><circle cx="248.14" cy="180.13" r="3.45" fill="#000000"/><circle cx="250.08" cy="179.4" r="3.45" fill="#000000"/><circle cx="252.02" cy="176.05" r="3.45" fill="#000000"/><circle cx="253.97" cy="172.67" r="3.45" fill="#000000"/><circle cx="255.91" cy="172.12" r="3.45" fill="#000000"/><circle cx="257.85" cy="168.69" r="3.45" fill="#000000"/><circle cx="259.79" cy="165.59" r="3.45" fill="#000000"/><circle cx="261.73" cy="161.69" r="3.45" fill="#000000"/><circle cx="263.67" cy="159.25" r="3.45" fill="#000000"/><circle cx="265.61" cy="155.01" r="3.45" fill="#000000"/><circle cx="267.55" cy="151.97" r="3.45" fill="#000000"/><circle cx="269.49" cy="147.1" r="3.45" fill="#000000"/><circle cx="271.43" cy="143.15" r="3.45" fill="#000000"/><circle cx="273.37" cy="139.59" r="3.45" fill="#000000"/><circle cx="275.31" cy="135.31" r="3.45" fill="#000000"/><circle cx="277.25" cy="131.78" r="3.45" fill="#000000"/><circle cx="279.19" cy="127.76" r="3.45" fill="#000000"/><circle cx="281.13" cy="123.63" r="3.45" fill="#000000"/><circle cx="283.08" cy="120.04" r="3.45" fill="#000000"/><circle cx="285.02" cy="116.19" r="3.45" fill="#000000"/><circle cx="286.96" cy="112.66" r="3.45" fill="#000000"/><circle cx="288.9" cy="108.72" r="3.45" fill="#000000"/><circle cx="290.84" cy="105.13" r="3.45" fill="#000000"/><circle cx="292.78" cy="101.79" r="3.45" fill="#000000"/><circle cx="294.72" cy="98.39" r="3.45" fill="#000000"/><circle cx="296.66" cy="94.87" r="3.45" fill="#000000"/><circle cx="298.6" cy="91.22" r="3.45" fill="#000000"/><circle cx="300.54" cy="87.79" r="3.45" fill="#000000"/><circle cx="302.48" cy="84.36" r="3.45" fill="#000000"/><circle cx="304.42" cy="80.92" r="3.45" fill="#000000"/><circle cx="306.36" cy="77.42" r="3.45" fill="#000000"/><circle cx="308.3" cy="73.89" r="3.45" fill="#000000"/><circle cx="310.24" cy="70.38" r="3.45" fill="#000000"/><circle cx="312.19" cy="66.93" r="3.45" fill="#000000"/><circle cx="314.13" cy="63.45" r="3.45" fill="#000000"/><circle cx="316.07" cy="59.98" r="3.45" fill="#000000"/><circle cx="318.01" cy="56.78" r="3.45" fill="#000000"/><circle cx="319.95" cy="54.01" r="3.45" fill="#000000"/><circle cx="321.89" cy="51.51" r="3.45" fill="#000000"/><circle cx="323.83" cy="49.22" r="3.45" fill="#000000"/><circle cx="325.77" cy="47.13" r="3.45" fill="#000000"/><circle cx="327.71" cy="45.22" r="3.45" fill="#000000"/><circle cx="329.65" cy="43.45" r="3.45" fill="#000000"/><circle cx="331.59" cy="41.82" r="3.45" fill="#000000"/><circle cx="333.53" cy="40.32" r="3.45" fill="#000000"/><circle cx="335.47" cy="38.89" r="3.45" fill="#000000"/><circle cx="337.41" cy="37.56" r="3.45" fill="#000000"/><circle cx="339.35" cy="36.42" r="3.45" fill="#000000"/><circle cx="341.3" cy="35.5" r="3.45" fill="#000000"/><circle cx="343.24" cy="34.75" r="3.45" fill="#000000"/><circle cx="345.18" cy="34.22" r="3.45" fill="#000000"/><circle cx="347.12" cy="33.9" r="3.45" fill="#000000"/><circle cx="349.06" cy="34.06" r="3.45" fill="#000000"/><circle cx="351" cy="34.4" r="3.45" fill="#000000"/><circle cx="352.94" cy="34.86" r="3.45" fill="#000000"/><circle cx="354.88" cy="35.54" r="3.45" fill="#000000"/><circle cx="356.82" cy="36.43" r="3.45" fill="#000000"/><circle cx="358.76" cy="37.7" r="3.45" fill="#000000"/><circle cx="360.7" cy="39.74" r="3.45" fill="#000000"/><circle cx="362.64" cy="42.35" r="3.45" fill="#000000"/><circle cx="364.58" cy="45.29" r="3.45" fill="#000000"/><circle cx="366.52" cy="49.05" r="3.45" fill="#000000"/><circle cx="368.46" cy="53.4" r="3.45" fill="#000000"/><circle cx="370.41" cy="58" r="3.45" fill="#000000"/><circle cx="372.35" cy="63.1" r="3.45" fill="#000000"/><circle cx="374.29" cy="68.3" r="3.45" fill="#000000"/><circle cx="376.23" cy="74.5" r="3.45" fill="#000000"/><circle cx="378.17" cy="80.9" r="3.45" fill="#000000"/><circle cx="380.11" cy="88.5" r="3.45" fill="#000000"/><circle cx="382.05" cy="97" r="3.45" fill="#000000"/><circle cx="383.99" cy="106.3" r="3.45" fill="#000000"/><circle cx="385.93" cy="116" r="3.45" fill="#000000"/><circle cx="387.87" cy="127.25" r="3.45" fill="#000000"/><circle cx="389.81" cy="139" r="3.45" fill="#000000"/><circle cx="391.75" cy="152.25" r="3.45" fill="#000000"/><circle cx="393.69" cy="167" r="3.45" fill="#000000"/><circle cx="395.63" cy="181" r="3.45" fill="#000000"/><circle cx="397.57" cy="197" r="3.45" fill="#000000"/><circle cx="399.52" cy="224" r="3.45" fill="#000000"/><circle cx="401.46" cy="247.8" r="3.45" fill="#000000"/></g><path d="M401.46 242.5V255.2M399.76 242.5h3.4M399.76 255h3.4" stroke="#000" fill="none" stroke-width="0.8"/></g>
<rect x="122.0" y="8.5" width="291.1" height="247.45" fill="none" stroke="#000" stroke-width="1"/>
<path d="M180.22 255.7v-3.5M180.22 8.5v3.5M238.44 255.7v-3.5M238.44 8.5v3.5M296.66 255.7v-3.5M296.66 8.5v3.5M354.88 255.7v-3.5M354.88 8.5v3.5M122.0 49.7h3.5M413.1 49.7h-3.5M122.0 87.64h1.8M413.1 87.64h-1.8M122.0 76h1.8M413.1 76h-1.8M122.0 69h1.8M413.1 69h-1.8M122.0 63.99h1.8M413.1 63.99h-1.8M122.0 60.07h1.8M413.1 60.07h-1.8M122.0 56.87h1.8M413.1 56.87h-1.8M122.0 54.15h1.8M413.1 54.15h-1.8M122.0 51.79h1.8M413.1 51.79h-1.8M122.0 132.1h3.5M413.1 132.1h-3.5M122.0 170.04h1.8M413.1 170.04h-1.8M122.0 158.4h1.8M413.1 158.4h-1.8M122.0 151.4h1.8M413.1 151.4h-1.8M122.0 146.39h1.8M413.1 146.39h-1.8M122.0 142.47h1.8M413.1 142.47h-1.8M122.0 139.27h1.8M413.1 139.27h-1.8M122.0 136.55h1.8M413.1 136.55h-1.8M122.0 134.19h1.8M413.1 134.19h-1.8M122.0 214.5h3.5M413.1 214.5h-3.5M122.0 252.44h1.8M413.1 252.44h-1.8M122.0 240.8h1.8M413.1 240.8h-1.8M122.0 233.8h1.8M413.1 233.8h-1.8M122.0 228.79h1.8M413.1 228.79h-1.8M122.0 224.87h1.8M413.1 224.87h-1.8M122.0 221.67h1.8M413.1 221.67h-1.8M122.0 218.95h1.8M413.1 218.95h-1.8M122.0 216.59h1.8M413.1 216.59h-1.8" stroke="#000" stroke-width="0.8" fill="none"/>
<g><path d="M205.1 23.1H251.6M205.1 21.3v3.6M251.6 21.3v3.6" stroke="#ff0000" stroke-width="0.8" fill="none"/><rect x="224.75" y="19.75" width="6.7" height="6.7" fill="none" stroke="#ff0000" stroke-width="0.95"/><path d="M205.1 42.3H251.6M205.1 40.5v3.6M251.6 40.5v3.6" stroke="#008a00" stroke-width="0.8" fill="none"/><circle cx="228.1" cy="42.3" r="3.4" fill="none" stroke="#008a00" stroke-width="1.05"/><path d="M205.1 61.5H251.6M205.1 59.7v3.6M251.6 59.7v3.6" stroke="#0000ff" stroke-width="0.8" fill="none"/><path d="M228.1 57.8L231.5 63.1H224.7Z" fill="none" stroke="#0000ff" stroke-width="0.95"/><path d="M205.1 81H251.6M205.1 79.2v3.6M251.6 79.2v3.6" stroke="#8b008b" stroke-width="0.8" fill="none"/><rect x="225" y="77.9" width="6.2" height="6.2" fill="#8b008b"/><path d="M205.1 100.2H251.6M205.1 98.4v3.6M251.6 98.4v3.6" stroke="#000000" stroke-width="0.8" fill="none"/><circle cx="228.1" cy="100.2" r="3.45" fill="#000000"/></g>
<g style="filter:grayscale(1)"><path d="M143.3 22.5h8.6M143.3 25.2h8.6" class="z" stroke-width="0.9"/><ellipse cx="158.6" cy="23.91" rx="3.79" ry="5.19" class="z" stroke-width="1.1"/><circle cx="168.8" cy="28.05" r="1.36" fill="#000"/><text x="179" y="29.5" text-anchor="middle" class="lg">1</text><text x="189.2" y="29.5" text-anchor="middle" class="lg">6</text><path d="M134.89 22.7C135.17 20.5 136.84 19.6 137.58 21.3L139.44 27.8" fill="none" stroke="#000" stroke-width="1.3" stroke-linecap="round"/><path d="M142.23 20.2L139.54 28.2" fill="none" stroke="#000" stroke-width="0.8" stroke-linecap="round"/><path d="M139.44 27.2L138.98 32" fill="none" stroke="#000" stroke-width="1.8" stroke-linecap="round"/><path d="M143.3 41.7h8.6M143.3 44.4h8.6" class="z" stroke-width="0.9"/><ellipse cx="158.6" cy="43.11" rx="3.79" ry="5.19" class="z" stroke-width="1.1"/><circle cx="168.8" cy="47.25" r="1.36" fill="#000"/><text x="179" y="48.7" text-anchor="middle" class="lg">3</text><text x="189.2" y="48.7" text-anchor="middle" class="lg">2</text><path d="M134.89 41.9C135.17 39.7 136.84 38.8 137.58 40.5L139.44 47" fill="none" stroke="#000" stroke-width="1.3" stroke-linecap="round"/><path d="M142.23 39.4L139.54 47.4" fill="none" stroke="#000" stroke-width="0.8" stroke-linecap="round"/><path d="M139.44 46.4L138.98 51.2" fill="none" stroke="#000" stroke-width="1.8" stroke-linecap="round"/><path d="M143.3 60.9h8.6M143.3 63.6h8.6" class="z" stroke-width="0.9"/><ellipse cx="158.6" cy="62.31" rx="3.79" ry="5.19" class="z" stroke-width="1.1"/><circle cx="168.8" cy="66.46" r="1.36" fill="#000"/><text x="179" y="67.9" text-anchor="middle" class="lg">4</text><text x="189.2" y="67.9" text-anchor="middle" class="lg">8</text><path d="M134.89 61.1C135.17 58.9 136.84 58 137.58 59.7L139.44 66.2" fill="none" stroke="#000" stroke-width="1.3" stroke-linecap="round"/><path d="M142.23 58.6L139.54 66.6" fill="none" stroke="#000" stroke-width="0.8" stroke-linecap="round"/><path d="M139.44 65.6L138.98 70.4" fill="none" stroke="#000" stroke-width="1.8" stroke-linecap="round"/><path d="M143.3 80.4h8.6M143.3 83.1h8.6" class="z" stroke-width="0.9"/><ellipse cx="158.6" cy="81.81" rx="3.79" ry="5.19" class="z" stroke-width="1.1"/><circle cx="168.8" cy="85.96" r="1.36" fill="#000"/><text x="179" y="87.4" text-anchor="middle" class="lg">6</text><text x="189.2" y="87.4" text-anchor="middle" class="lg">4</text><path d="M134.89 80.6C135.17 78.4 136.84 77.5 137.58 79.2L139.44 85.7" fill="none" stroke="#000" stroke-width="1.3" stroke-linecap="round"/><path d="M142.23 78.1L139.54 86.1" fill="none" stroke="#000" stroke-width="0.8" stroke-linecap="round"/><path d="M139.44 85.1L138.98 89.9" fill="none" stroke="#000" stroke-width="1.8" stroke-linecap="round"/><path d="M153.5 99.6h8.6M153.5 102.3h8.6" class="z" stroke-width="0.9"/><text x="168.8" y="106.6" text-anchor="middle" class="lg">1</text><circle cx="179" cy="105.16" r="1.36" fill="#000"/><ellipse cx="189.2" cy="101.01" rx="3.79" ry="5.19" class="z" stroke-width="1.1"/><path d="M145.09 99.8C145.37 97.6 147.04 96.7 147.78 98.4L149.64 104.9" fill="none" stroke="#000" stroke-width="1.3" stroke-linecap="round"/><path d="M152.43 97.3L149.74 105.3" fill="none" stroke="#000" stroke-width="0.8" stroke-linecap="round"/><path d="M149.64 104.3L149.18 109.1" fill="none" stroke="#000" stroke-width="1.8" stroke-linecap="round"/></g>
<g style="filter:grayscale(1)"><ellipse cx="110" cy="267.19" rx="4.21" ry="6.66" class="z" stroke-width="1.2"/><circle cx="122.9" cy="272.47" r="1.72" fill="#000"/><ellipse cx="135.8" cy="267.19" rx="4.21" ry="6.66" class="z" stroke-width="1.2"/><ellipse cx="168.22" cy="267.19" rx="4.21" ry="6.66" class="z" stroke-width="1.2"/><circle cx="181.12" cy="272.47" r="1.72" fill="#000"/><text x="194.02" y="274.3" text-anchor="middle" class="tk">2</text><ellipse cx="226.44" cy="267.19" rx="4.21" ry="6.66" class="z" stroke-width="1.2"/><circle cx="239.34" cy="272.47" r="1.72" fill="#000"/><text x="252.24" y="274.3" text-anchor="middle" class="tk">4</text><ellipse cx="284.66" cy="267.19" rx="4.21" ry="6.66" class="z" stroke-width="1.2"/><circle cx="297.56" cy="272.47" r="1.72" fill="#000"/><text x="310.46" y="274.3" text-anchor="middle" class="tk">6</text><ellipse cx="342.88" cy="267.19" rx="4.21" ry="6.66" class="z" stroke-width="1.2"/><circle cx="355.78" cy="272.47" r="1.72" fill="#000"/><text x="368.68" y="274.3" text-anchor="middle" class="tk">8</text><text x="401.1" y="274.3" text-anchor="middle" class="tk">1</text><circle cx="414" cy="272.47" r="1.72" fill="#000"/><ellipse cx="426.9" cy="267.19" rx="4.21" ry="6.66" class="z" stroke-width="1.2"/><text x="73.85" y="59.4" text-anchor="middle" class="tk">1</text><ellipse cx="86.75" cy="52.29" rx="4.21" ry="6.66" class="z" stroke-width="1.2"/><path d="M94.63 43.05h8.3" class="z" stroke-width="1.0"/><text x="108.74" y="48.2" text-anchor="middle" class="sp">2</text><text x="73.85" y="141.8" text-anchor="middle" class="tk">1</text><ellipse cx="86.75" cy="134.69" rx="4.21" ry="6.66" class="z" stroke-width="1.2"/><path d="M94.63 125.45h8.3" class="z" stroke-width="1.0"/><text x="108.74" y="130.6" text-anchor="middle" class="sp">4</text><text x="73.85" y="224.2" text-anchor="middle" class="tk">1</text><ellipse cx="86.75" cy="217.09" rx="4.21" ry="6.66" class="z" stroke-width="1.2"/><path d="M94.63 207.85h8.3" class="z" stroke-width="1.0"/><text x="108.74" y="213" text-anchor="middle" class="sp">6</text></g>
<g style="filter:grayscale(1)"><text class="ax" transform="translate(62,131) rotate(-90)" text-anchor="middle">frequency</text>
<text class="ax" x="257.2" y="300">m</text></g>
<path d="M247 278V305M287.8 278V305" stroke="#222" stroke-width="1.5"/>
</svg>
</body></html>
